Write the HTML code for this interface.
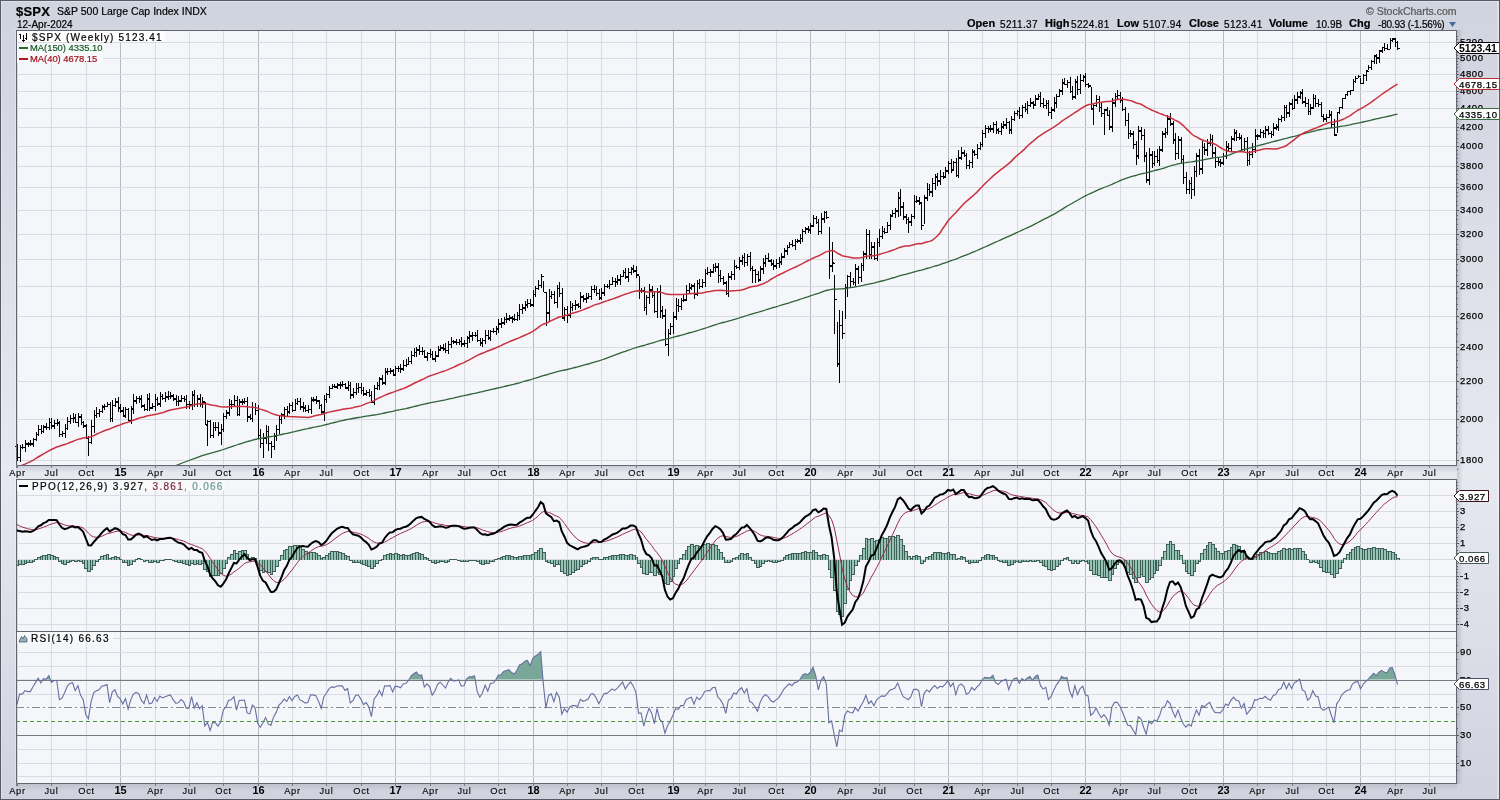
<!DOCTYPE html>
<html><head><meta charset="utf-8"><style>
html,body{margin:0;padding:0;}
body{width:1500px;height:800px;overflow:hidden;font-family:"Liberation Sans",sans-serif;}
#w{position:relative;width:1500px;height:800px;background:#d9dce6;overflow:hidden;}
svg{position:absolute;left:0;top:0;will-change:transform;}
text{-webkit-font-smoothing:antialiased;}
.yl{font:9.5px "Liberation Sans",sans-serif;fill:#000;letter-spacing:0.6px;stroke:#000;stroke-width:0.25px;}
.tag{font:9.6px "Liberation Sans",sans-serif;fill:#000;letter-spacing:0.55px;stroke:#000;stroke-width:0.25px;}
.tagb{font:bold 10.5px "Liberation Sans",sans-serif;fill:#000;}
.xl{font:9.3px "Liberation Sans",sans-serif;fill:#000;letter-spacing:0.7px;stroke:#000;stroke-width:0.12px;}
.xlb{font:bold 11px "Liberation Sans",sans-serif;fill:#000;}
.t{position:absolute;white-space:nowrap;line-height:1;will-change:transform;-webkit-text-stroke:0.2px currentColor;}
</style></head><body><div id="w">
<svg width="1500" height="800">
<defs>
<linearGradient id="gband" x1="0" y1="0" x2="0" y2="1"><stop offset="0" stop-color="#c6cad5"/><stop offset="0.55" stop-color="#e6e8ef"/><stop offset="1" stop-color="#e9eaf0"/></linearGradient>
<linearGradient id="gbot" x1="0" y1="0" x2="0" y2="1"><stop offset="0" stop-color="#000" stop-opacity="0.1"/><stop offset="0.5" stop-color="#000" stop-opacity="0.0"/><stop offset="1" stop-color="#000" stop-opacity="0"/></linearGradient>
<linearGradient id="gshadow" x1="0" y1="0" x2="1" y2="0"><stop offset="0" stop-color="#000" stop-opacity="0.16"/><stop offset="1" stop-color="#000" stop-opacity="0"/></linearGradient>
<linearGradient id="gbg" x1="0" y1="0" x2="0" y2="1"><stop offset="0" stop-color="#d0d4df"/><stop offset="0.08" stop-color="#d3d6e1"/><stop offset="0.59" stop-color="#e7e9f1"/><stop offset="1" stop-color="#d0d3de"/></linearGradient>
</defs>
<rect x="0" y="0" width="1500" height="800" fill="url(#gbg)"/>
<rect x="0" y="1" width="1500" height="1" fill="#dde0e8"/>
<rect x="1456" y="30" width="7" height="754" fill="url(#gshadow)"/>
<rect x="1497" y="0" width="2" height="800" fill="#fff" fill-opacity="0.25"/>
<rect x="1" y="0" width="1" height="800" fill="#fff" fill-opacity="0.3"/>
<rect x="15" y="30" width="1" height="754" fill="#fff" fill-opacity="0.3"/>
<rect x="16" y="30" width="1440" height="435" fill="#f5f6fa"/>
<rect x="16" y="479" width="1440" height="152" fill="#f5f6fa"/>
<rect x="16" y="631" width="1440" height="152" fill="#f5f6fa"/>
<rect x="16" y="465" width="1441" height="14" fill="url(#gband)"/>
<rect x="16" y="783" width="1441" height="16" fill="url(#gbot)"/>
<line x1="17.5" y1="30" x2="17.5" y2="465" stroke="#d9dbe2"/>
<line x1="17.5" y1="479" x2="17.5" y2="631" stroke="#d9dbe2"/>
<line x1="17.5" y1="631" x2="17.5" y2="783" stroke="#d9dbe2"/>
<line x1="51.5" y1="30" x2="51.5" y2="465" stroke="#d9dbe2"/>
<line x1="51.5" y1="479" x2="51.5" y2="631" stroke="#d9dbe2"/>
<line x1="51.5" y1="631" x2="51.5" y2="783" stroke="#d9dbe2"/>
<line x1="86.5" y1="30" x2="86.5" y2="465" stroke="#d9dbe2"/>
<line x1="86.5" y1="479" x2="86.5" y2="631" stroke="#d9dbe2"/>
<line x1="86.5" y1="631" x2="86.5" y2="783" stroke="#d9dbe2"/>
<line x1="120.5" y1="30" x2="120.5" y2="465" stroke="#b8bac2"/>
<line x1="120.5" y1="479" x2="120.5" y2="631" stroke="#b8bac2"/>
<line x1="120.5" y1="631" x2="120.5" y2="783" stroke="#b8bac2"/>
<line x1="155.5" y1="30" x2="155.5" y2="465" stroke="#d9dbe2"/>
<line x1="155.5" y1="479" x2="155.5" y2="631" stroke="#d9dbe2"/>
<line x1="155.5" y1="631" x2="155.5" y2="783" stroke="#d9dbe2"/>
<line x1="189.5" y1="30" x2="189.5" y2="465" stroke="#d9dbe2"/>
<line x1="189.5" y1="479" x2="189.5" y2="631" stroke="#d9dbe2"/>
<line x1="189.5" y1="631" x2="189.5" y2="783" stroke="#d9dbe2"/>
<line x1="223.5" y1="30" x2="223.5" y2="465" stroke="#d9dbe2"/>
<line x1="223.5" y1="479" x2="223.5" y2="631" stroke="#d9dbe2"/>
<line x1="223.5" y1="631" x2="223.5" y2="783" stroke="#d9dbe2"/>
<line x1="258.5" y1="30" x2="258.5" y2="465" stroke="#b8bac2"/>
<line x1="258.5" y1="479" x2="258.5" y2="631" stroke="#b8bac2"/>
<line x1="258.5" y1="631" x2="258.5" y2="783" stroke="#b8bac2"/>
<line x1="292.5" y1="30" x2="292.5" y2="465" stroke="#d9dbe2"/>
<line x1="292.5" y1="479" x2="292.5" y2="631" stroke="#d9dbe2"/>
<line x1="292.5" y1="631" x2="292.5" y2="783" stroke="#d9dbe2"/>
<line x1="326.5" y1="30" x2="326.5" y2="465" stroke="#d9dbe2"/>
<line x1="326.5" y1="479" x2="326.5" y2="631" stroke="#d9dbe2"/>
<line x1="326.5" y1="631" x2="326.5" y2="783" stroke="#d9dbe2"/>
<line x1="361.5" y1="30" x2="361.5" y2="465" stroke="#d9dbe2"/>
<line x1="361.5" y1="479" x2="361.5" y2="631" stroke="#d9dbe2"/>
<line x1="361.5" y1="631" x2="361.5" y2="783" stroke="#d9dbe2"/>
<line x1="395.5" y1="30" x2="395.5" y2="465" stroke="#b8bac2"/>
<line x1="395.5" y1="479" x2="395.5" y2="631" stroke="#b8bac2"/>
<line x1="395.5" y1="631" x2="395.5" y2="783" stroke="#b8bac2"/>
<line x1="430.5" y1="30" x2="430.5" y2="465" stroke="#d9dbe2"/>
<line x1="430.5" y1="479" x2="430.5" y2="631" stroke="#d9dbe2"/>
<line x1="430.5" y1="631" x2="430.5" y2="783" stroke="#d9dbe2"/>
<line x1="464.5" y1="30" x2="464.5" y2="465" stroke="#d9dbe2"/>
<line x1="464.5" y1="479" x2="464.5" y2="631" stroke="#d9dbe2"/>
<line x1="464.5" y1="631" x2="464.5" y2="783" stroke="#d9dbe2"/>
<line x1="498.5" y1="30" x2="498.5" y2="465" stroke="#d9dbe2"/>
<line x1="498.5" y1="479" x2="498.5" y2="631" stroke="#d9dbe2"/>
<line x1="498.5" y1="631" x2="498.5" y2="783" stroke="#d9dbe2"/>
<line x1="533.5" y1="30" x2="533.5" y2="465" stroke="#b8bac2"/>
<line x1="533.5" y1="479" x2="533.5" y2="631" stroke="#b8bac2"/>
<line x1="533.5" y1="631" x2="533.5" y2="783" stroke="#b8bac2"/>
<line x1="567.5" y1="30" x2="567.5" y2="465" stroke="#d9dbe2"/>
<line x1="567.5" y1="479" x2="567.5" y2="631" stroke="#d9dbe2"/>
<line x1="567.5" y1="631" x2="567.5" y2="783" stroke="#d9dbe2"/>
<line x1="601.5" y1="30" x2="601.5" y2="465" stroke="#d9dbe2"/>
<line x1="601.5" y1="479" x2="601.5" y2="631" stroke="#d9dbe2"/>
<line x1="601.5" y1="631" x2="601.5" y2="783" stroke="#d9dbe2"/>
<line x1="636.5" y1="30" x2="636.5" y2="465" stroke="#d9dbe2"/>
<line x1="636.5" y1="479" x2="636.5" y2="631" stroke="#d9dbe2"/>
<line x1="636.5" y1="631" x2="636.5" y2="783" stroke="#d9dbe2"/>
<line x1="673.5" y1="30" x2="673.5" y2="465" stroke="#b8bac2"/>
<line x1="673.5" y1="479" x2="673.5" y2="631" stroke="#b8bac2"/>
<line x1="673.5" y1="631" x2="673.5" y2="783" stroke="#b8bac2"/>
<line x1="705.5" y1="30" x2="705.5" y2="465" stroke="#d9dbe2"/>
<line x1="705.5" y1="479" x2="705.5" y2="631" stroke="#d9dbe2"/>
<line x1="705.5" y1="631" x2="705.5" y2="783" stroke="#d9dbe2"/>
<line x1="739.5" y1="30" x2="739.5" y2="465" stroke="#d9dbe2"/>
<line x1="739.5" y1="479" x2="739.5" y2="631" stroke="#d9dbe2"/>
<line x1="739.5" y1="631" x2="739.5" y2="783" stroke="#d9dbe2"/>
<line x1="776.5" y1="30" x2="776.5" y2="465" stroke="#d9dbe2"/>
<line x1="776.5" y1="479" x2="776.5" y2="631" stroke="#d9dbe2"/>
<line x1="776.5" y1="631" x2="776.5" y2="783" stroke="#d9dbe2"/>
<line x1="810.5" y1="30" x2="810.5" y2="465" stroke="#b8bac2"/>
<line x1="810.5" y1="479" x2="810.5" y2="631" stroke="#b8bac2"/>
<line x1="810.5" y1="631" x2="810.5" y2="783" stroke="#b8bac2"/>
<line x1="845.5" y1="30" x2="845.5" y2="465" stroke="#d9dbe2"/>
<line x1="845.5" y1="479" x2="845.5" y2="631" stroke="#d9dbe2"/>
<line x1="845.5" y1="631" x2="845.5" y2="783" stroke="#d9dbe2"/>
<line x1="879.5" y1="30" x2="879.5" y2="465" stroke="#d9dbe2"/>
<line x1="879.5" y1="479" x2="879.5" y2="631" stroke="#d9dbe2"/>
<line x1="879.5" y1="631" x2="879.5" y2="783" stroke="#d9dbe2"/>
<line x1="914.5" y1="30" x2="914.5" y2="465" stroke="#d9dbe2"/>
<line x1="914.5" y1="479" x2="914.5" y2="631" stroke="#d9dbe2"/>
<line x1="914.5" y1="631" x2="914.5" y2="783" stroke="#d9dbe2"/>
<line x1="948.5" y1="30" x2="948.5" y2="465" stroke="#b8bac2"/>
<line x1="948.5" y1="479" x2="948.5" y2="631" stroke="#b8bac2"/>
<line x1="948.5" y1="631" x2="948.5" y2="783" stroke="#b8bac2"/>
<line x1="982.5" y1="30" x2="982.5" y2="465" stroke="#d9dbe2"/>
<line x1="982.5" y1="479" x2="982.5" y2="631" stroke="#d9dbe2"/>
<line x1="982.5" y1="631" x2="982.5" y2="783" stroke="#d9dbe2"/>
<line x1="1017.5" y1="30" x2="1017.5" y2="465" stroke="#d9dbe2"/>
<line x1="1017.5" y1="479" x2="1017.5" y2="631" stroke="#d9dbe2"/>
<line x1="1017.5" y1="631" x2="1017.5" y2="783" stroke="#d9dbe2"/>
<line x1="1051.5" y1="30" x2="1051.5" y2="465" stroke="#d9dbe2"/>
<line x1="1051.5" y1="479" x2="1051.5" y2="631" stroke="#d9dbe2"/>
<line x1="1051.5" y1="631" x2="1051.5" y2="783" stroke="#d9dbe2"/>
<line x1="1085.5" y1="30" x2="1085.5" y2="465" stroke="#b8bac2"/>
<line x1="1085.5" y1="479" x2="1085.5" y2="631" stroke="#b8bac2"/>
<line x1="1085.5" y1="631" x2="1085.5" y2="783" stroke="#b8bac2"/>
<line x1="1120.5" y1="30" x2="1120.5" y2="465" stroke="#d9dbe2"/>
<line x1="1120.5" y1="479" x2="1120.5" y2="631" stroke="#d9dbe2"/>
<line x1="1120.5" y1="631" x2="1120.5" y2="783" stroke="#d9dbe2"/>
<line x1="1154.5" y1="30" x2="1154.5" y2="465" stroke="#d9dbe2"/>
<line x1="1154.5" y1="479" x2="1154.5" y2="631" stroke="#d9dbe2"/>
<line x1="1154.5" y1="631" x2="1154.5" y2="783" stroke="#d9dbe2"/>
<line x1="1189.5" y1="30" x2="1189.5" y2="465" stroke="#d9dbe2"/>
<line x1="1189.5" y1="479" x2="1189.5" y2="631" stroke="#d9dbe2"/>
<line x1="1189.5" y1="631" x2="1189.5" y2="783" stroke="#d9dbe2"/>
<line x1="1223.5" y1="30" x2="1223.5" y2="465" stroke="#b8bac2"/>
<line x1="1223.5" y1="479" x2="1223.5" y2="631" stroke="#b8bac2"/>
<line x1="1223.5" y1="631" x2="1223.5" y2="783" stroke="#b8bac2"/>
<line x1="1257.5" y1="30" x2="1257.5" y2="465" stroke="#d9dbe2"/>
<line x1="1257.5" y1="479" x2="1257.5" y2="631" stroke="#d9dbe2"/>
<line x1="1257.5" y1="631" x2="1257.5" y2="783" stroke="#d9dbe2"/>
<line x1="1292.5" y1="30" x2="1292.5" y2="465" stroke="#d9dbe2"/>
<line x1="1292.5" y1="479" x2="1292.5" y2="631" stroke="#d9dbe2"/>
<line x1="1292.5" y1="631" x2="1292.5" y2="783" stroke="#d9dbe2"/>
<line x1="1326.5" y1="30" x2="1326.5" y2="465" stroke="#d9dbe2"/>
<line x1="1326.5" y1="479" x2="1326.5" y2="631" stroke="#d9dbe2"/>
<line x1="1326.5" y1="631" x2="1326.5" y2="783" stroke="#d9dbe2"/>
<line x1="1360.5" y1="30" x2="1360.5" y2="465" stroke="#b8bac2"/>
<line x1="1360.5" y1="479" x2="1360.5" y2="631" stroke="#b8bac2"/>
<line x1="1360.5" y1="631" x2="1360.5" y2="783" stroke="#b8bac2"/>
<line x1="1395.5" y1="30" x2="1395.5" y2="465" stroke="#d9dbe2"/>
<line x1="1395.5" y1="479" x2="1395.5" y2="631" stroke="#d9dbe2"/>
<line x1="1395.5" y1="631" x2="1395.5" y2="783" stroke="#d9dbe2"/>
<line x1="1429.5" y1="30" x2="1429.5" y2="465" stroke="#d9dbe2"/>
<line x1="1429.5" y1="479" x2="1429.5" y2="631" stroke="#d9dbe2"/>
<line x1="1429.5" y1="631" x2="1429.5" y2="783" stroke="#d9dbe2"/>
<line x1="16" y1="460.5" x2="1456" y2="460.5" stroke="#d9dbe2"/>
<line x1="16" y1="419.5" x2="1456" y2="419.5" stroke="#d9dbe2"/>
<line x1="16" y1="381.5" x2="1456" y2="381.5" stroke="#d9dbe2"/>
<line x1="16" y1="347.5" x2="1456" y2="347.5" stroke="#d9dbe2"/>
<line x1="16" y1="316.5" x2="1456" y2="316.5" stroke="#d9dbe2"/>
<line x1="16" y1="286.5" x2="1456" y2="286.5" stroke="#d9dbe2"/>
<line x1="16" y1="259.5" x2="1456" y2="259.5" stroke="#d9dbe2"/>
<line x1="16" y1="234.5" x2="1456" y2="234.5" stroke="#d9dbe2"/>
<line x1="16" y1="210.5" x2="1456" y2="210.5" stroke="#d9dbe2"/>
<line x1="16" y1="187.5" x2="1456" y2="187.5" stroke="#d9dbe2"/>
<line x1="16" y1="166.5" x2="1456" y2="166.5" stroke="#d9dbe2"/>
<line x1="16" y1="146.5" x2="1456" y2="146.5" stroke="#d9dbe2"/>
<line x1="16" y1="127.5" x2="1456" y2="127.5" stroke="#d9dbe2"/>
<line x1="16" y1="108.5" x2="1456" y2="108.5" stroke="#d9dbe2"/>
<line x1="16" y1="91.5" x2="1456" y2="91.5" stroke="#d9dbe2"/>
<line x1="16" y1="74.5" x2="1456" y2="74.5" stroke="#d9dbe2"/>
<line x1="16" y1="58.5" x2="1456" y2="58.5" stroke="#d9dbe2"/>
<line x1="16" y1="42.5" x2="1456" y2="42.5" stroke="#d9dbe2"/>
<line x1="16" y1="624.5" x2="1456" y2="624.5" stroke="#d9dbe2"/>
<line x1="16" y1="608.5" x2="1456" y2="608.5" stroke="#d9dbe2"/>
<line x1="16" y1="592.5" x2="1456" y2="592.5" stroke="#d9dbe2"/>
<line x1="16" y1="576.5" x2="1456" y2="576.5" stroke="#d9dbe2"/>
<line x1="16" y1="559.5" x2="1456" y2="559.5" stroke="#d9dbe2"/>
<line x1="16" y1="543.5" x2="1456" y2="543.5" stroke="#d9dbe2"/>
<line x1="16" y1="527.5" x2="1456" y2="527.5" stroke="#d9dbe2"/>
<line x1="16" y1="511.5" x2="1456" y2="511.5" stroke="#d9dbe2"/>
<line x1="16" y1="495.5" x2="1456" y2="495.5" stroke="#d9dbe2"/>
<line x1="16" y1="776.5" x2="1456" y2="776.5" stroke="#d9dbe2"/>
<line x1="16" y1="763.5" x2="1456" y2="763.5" stroke="#d9dbe2"/>
<line x1="16" y1="749.5" x2="1456" y2="749.5" stroke="#d9dbe2"/>
<line x1="16" y1="694.5" x2="1456" y2="694.5" stroke="#d9dbe2"/>
<line x1="16" y1="666.5" x2="1456" y2="666.5" stroke="#d9dbe2"/>
<line x1="16" y1="652.5" x2="1456" y2="652.5" stroke="#d9dbe2"/>
<line x1="16" y1="638.5" x2="1456" y2="638.5" stroke="#d9dbe2"/>
<path d="M17.5 444.4V460.9M15 446.5h2M18 457.5h2M20.5 444.7V461.5M18 457.5h2M21 447.5h2M22.5 443.9V448.9M20 447.5h2M23 447.5h2M25.5 440.2V451.9M23 447.5h2M26 443.5h2M28.5 441.5V447.3M26 444.5h2M29 444.5h2M30.5 439.5V446.4M28 443.5h2M31 444.5h2M33.5 437.6V447.4M31 443.5h2M34 439.5h2M36.5 432.3V441.1M34 439.5h2M37 434.5h2M38.5 424.5V436.4M36 434.5h2M39 429.5h2M41.5 425.0V434.1M39 429.5h2M42 431.5h2M43.5 424.7V432.9M41 431.5h2M44 426.5h2M46.5 422.8V429.6M44 427.5h2M47 427.5h2M49.5 418.4V429.9M47 427.5h2M50 422.5h2M51.5 417.9V429.1M49 422.5h2M52 425.5h2M54.5 419.8V428.9M52 426.5h2M55 423.5h2M57.5 418.6V425.6M55 423.5h2M58 423.5h2M59.5 420.8V436.8M57 422.5h2M60 434.5h2M62.5 430.9V436.6M60 434.5h2M63 433.5h2M65.5 424.1V437.6M63 433.5h2M66 428.5h2M67.5 416.7V430.2M65 428.5h2M68 421.5h2M70.5 414.8V424.4M68 421.5h2M71 418.5h2M73.5 413.1V423.2M71 418.5h2M74 417.5h2M75.5 413.8V423.3M73 418.5h2M76 422.5h2M78.5 413.2V426.6M76 422.5h2M79 417.5h2M81.5 414.1V425.1M79 416.5h2M82 422.5h2M83.5 420.8V428.4M81 422.5h2M84 425.5h2M86.5 424.2V439.4M84 426.5h2M87 438.5h2M88.5 435.7V455.8M86 437.5h2M89 442.5h2M91.5 419.7V444.4M89 442.5h2M92 426.5h2M94.5 410.4V433.0M92 426.5h2M95 415.5h2M96.5 407.3V417.5M94 415.5h2M97 413.5h2M99.5 408.6V417.4M97 413.5h2M100 411.5h2M102.5 404.6V412.5M100 411.5h2M103 406.5h2M104.5 403.5V410.0M102 407.5h2M105 406.5h2M107.5 402.1V406.8M105 406.5h2M108 404.5h2M110.5 401.8V422.0M108 404.5h2M111 418.5h2M112.5 400.1V422.1M110 418.5h2M113 405.5h2M115.5 397.7V406.7M113 405.5h2M116 402.5h2M118.5 396.9V412.4M116 401.5h2M119 408.5h2M120.5 404.4V412.9M118 407.5h2M121 410.5h2M123.5 407.1V416.6M121 411.5h2M124 415.5h2M125.5 406.9V417.7M123 416.5h2M126 409.5h2M128.5 407.5V421.3M126 409.5h2M129 420.5h2M131.5 406.0V424.0M129 420.5h2M132 408.5h2M133.5 394.4V413.7M131 409.5h2M134 400.5h2M136.5 395.5V403.6M134 401.5h2M137 398.5h2M139.5 396.3V403.4M137 398.5h2M140 399.5h2M141.5 395.1V408.2M139 398.5h2M142 405.5h2M144.5 404.1V411.1M142 406.5h2M145 409.5h2M147.5 393.7V410.8M145 409.5h2M148 398.5h2M149.5 393.4V410.8M147 399.5h2M150 407.5h2M152.5 402.8V408.9M150 408.5h2M153 406.5h2M155.5 394.3V410.6M153 406.5h2M156 399.5h2M157.5 396.7V405.9M155 399.5h2M158 403.5h2M160.5 392.3V407.0M158 404.5h2M161 396.5h2M162.5 393.5V400.2M160 396.5h2M163 398.5h2M165.5 391.7V402.2M163 398.5h2M166 397.5h2M168.5 391.2V400.2M166 396.5h2M169 396.5h2M170.5 391.6V398.6M168 396.5h2M171 395.5h2M173.5 394.2V400.7M171 396.5h2M174 398.5h2M176.5 394.8V406.0M174 399.5h2M177 401.5h2M178.5 396.0V406.3M176 401.5h2M179 401.5h2M181.5 395.3V402.1M179 400.5h2M182 398.5h2M184.5 396.4V401.5M182 398.5h2M185 399.5h2M186.5 394.6V408.6M184 399.5h2M187 404.5h2M189.5 400.5V408.5M187 404.5h2M190 404.5h2M192.5 391.0V409.5M190 405.5h2M193 395.5h2M194.5 390.3V406.7M192 394.5h2M195 404.5h2M197.5 394.7V406.6M195 404.5h2M198 399.5h2M200.5 393.5V406.7M198 398.5h2M201 404.5h2M202.5 396.5V408.2M200 404.5h2M203 401.5h2M205.5 402.3V424.6M203 402.5h2M206 425.5h2M207.5 420.2V446.0M205 424.5h2M208 421.5h2M210.5 420.4V438.4M208 421.5h2M211 435.5h2M213.5 421.8V437.5M211 435.5h2M214 427.5h2M215.5 422.0V431.3M213 427.5h2M216 427.5h2M218.5 422.4V435.6M216 427.5h2M219 433.5h2M221.5 424.3V444.9M219 432.5h2M222 429.5h2M223.5 413.2V431.7M221 429.5h2M224 416.5h2M226.5 410.1V418.9M224 416.5h2M227 412.5h2M229.5 399.2V415.9M227 413.5h2M230 404.5h2M231.5 400.1V409.1M229 404.5h2M232 404.5h2M234.5 395.1V406.9M232 404.5h2M235 400.5h2M237.5 395.9V416.0M235 400.5h2M238 414.5h2M239.5 398.9V416.3M237 414.5h2M240 402.5h2M242.5 399.3V404.7M240 401.5h2M243 402.5h2M244.5 397.8V403.8M242 401.5h2M245 401.5h2M247.5 397.2V421.7M245 401.5h2M248 416.5h2M250.5 413.8V420.1M248 417.5h2M251 418.5h2M252.5 402.4V421.9M250 418.5h2M253 407.5h2M255.5 403.0V415.0M253 407.5h2M256 410.5h2M258.5 405.0V439.3M256 410.5h2M259 435.5h2M260.5 428.7V447.7M258 435.5h2M261 443.5h2M263.5 433.2V457.7M261 443.5h2M264 438.5h2M266.5 424.8V443.8M264 437.5h2M267 431.5h2M268.5 426.2V450.5M266 431.5h2M269 443.5h2M271.5 440.5V458.2M269 443.5h2M272 446.5h2M274.5 433.2V449.5M272 446.5h2M275 435.5h2M276.5 424.5V441.4M274 436.5h2M277 429.5h2M279.5 416.3V434.1M277 429.5h2M280 419.5h2M281.5 412.5V424.0M279 419.5h2M282 415.5h2M284.5 406.9V419.1M282 414.5h2M285 409.5h2M287.5 406.2V417.1M285 409.5h2M288 412.5h2M289.5 402.9V414.4M287 411.5h2M290 405.5h2M292.5 402.2V411.5M290 405.5h2M293 410.5h2M295.5 399.2V411.1M293 410.5h2M296 403.5h2M297.5 398.2V404.5M295 403.5h2M298 401.5h2M300.5 397.8V409.5M298 401.5h2M301 406.5h2M303.5 402.0V412.1M301 407.5h2M304 408.5h2M305.5 405.4V412.0M303 407.5h2M306 410.5h2M308.5 404.6V412.7M306 410.5h2M309 409.5h2M311.5 397.0V414.1M309 409.5h2M312 400.5h2M313.5 397.1V401.7M311 399.5h2M314 400.5h2M316.5 395.8V404.3M314 399.5h2M317 400.5h2M319.5 399.6V409.0M317 401.5h2M320 405.5h2M321.5 403.7V414.9M319 405.5h2M322 412.5h2M324.5 394.6V420.6M322 411.5h2M325 399.5h2M326.5 392.5V403.1M324 399.5h2M327 394.5h2M329.5 385.6V397.5M327 394.5h2M330 388.5h2M332.5 383.5V389.3M330 388.5h2M333 386.5h2M334.5 383.6V387.9M332 386.5h2M335 386.5h2M337.5 382.9V388.7M335 387.5h2M338 384.5h2M340.5 381.8V388.8M338 385.5h2M341 384.5h2M342.5 381.0V386.5M340 385.5h2M343 384.5h2M345.5 383.1V389.1M343 384.5h2M346 387.5h2M348.5 380.9V391.0M346 388.5h2M349 385.5h2M350.5 382.4V399.2M348 385.5h2M351 394.5h2M353.5 388.1V397.9M351 395.5h2M354 392.5h2M356.5 383.2V395.2M354 392.5h2M357 388.5h2M358.5 383.2V392.6M356 388.5h2M359 387.5h2M361.5 382.9V393.8M359 387.5h2M362 390.5h2M363.5 386.8V396.1M361 390.5h2M364 393.5h2M366.5 390.3V395.7M364 394.5h2M367 392.5h2M369.5 389.4V396.7M367 392.5h2M370 395.5h2M371.5 391.0V402.7M369 395.5h2M372 402.5h2M374.5 385.1V404.7M372 402.5h2M375 388.5h2M377.5 381.6V390.0M375 388.5h2M378 385.5h2M379.5 376.7V389.6M377 385.5h2M380 379.5h2M382.5 374.9V384.9M380 378.5h2M383 383.5h2M385.5 368.1V385.0M383 382.5h2M386 371.5h2M387.5 368.4V374.7M385 372.5h2M388 371.5h2M390.5 368.2V374.2M388 371.5h2M391 370.5h2M393.5 368.7V376.0M391 371.5h2M394 374.5h2M395.5 366.3V375.9M393 375.5h2M396 368.5h2M398.5 365.9V371.6M396 368.5h2M399 368.5h2M400.5 364.0V372.6M398 368.5h2M401 369.5h2M403.5 360.1V371.2M401 368.5h2M404 365.5h2M406.5 359.4V366.8M404 365.5h2M407 364.5h2M408.5 357.4V365.4M406 364.5h2M409 361.5h2M411.5 350.6V364.2M409 361.5h2M412 355.5h2M414.5 348.2V356.6M412 355.5h2M415 352.5h2M416.5 346.7V356.9M414 352.5h2M417 350.5h2M419.5 345.0V355.0M417 349.5h2M420 351.5h2M422.5 346.8V354.8M420 351.5h2M423 351.5h2M424.5 349.7V358.1M422 351.5h2M425 356.5h2M427.5 351.5V361.0M425 357.5h2M428 353.5h2M430.5 349.4V358.1M428 353.5h2M431 354.5h2M432.5 351.1V360.1M430 354.5h2M433 359.5h2M435.5 351.4V361.6M433 358.5h2M436 356.5h2M438.5 345.9V357.0M436 355.5h2M439 350.5h2M440.5 345.0V350.8M438 349.5h2M441 347.5h2M443.5 343.6V350.6M441 348.5h2M444 349.5h2M445.5 343.2V353.1M443 348.5h2M446 350.5h2M448.5 341.4V354.1M446 350.5h2M449 344.5h2M451.5 337.1V347.7M449 344.5h2M452 341.5h2M453.5 339.5V344.0M451 341.5h2M454 342.5h2M456.5 339.0V345.1M454 341.5h2M457 342.5h2M459.5 339.4V344.7M457 342.5h2M460 341.5h2M461.5 336.7V347.1M459 341.5h2M462 343.5h2M464.5 339.8V346.6M462 344.5h2M465 343.5h2M467.5 335.8V347.7M465 343.5h2M468 337.5h2M469.5 330.5V342.8M467 338.5h2M470 335.5h2M472.5 332.4V340.5M470 336.5h2M473 335.5h2M475.5 331.7V336.9M473 335.5h2M476 335.5h2M477.5 330.3V342.4M475 335.5h2M478 340.5h2M480.5 338.4V346.1M478 340.5h2M481 343.5h2M482.5 338.3V346.5M480 342.5h2M483 340.5h2M485.5 330.0V344.0M483 340.5h2M486 335.5h2M488.5 330.4V340.3M486 335.5h2M489 337.5h2M490.5 329.7V341.0M488 338.5h2M491 331.5h2M493.5 328.2V332.8M491 331.5h2M494 331.5h2M496.5 325.5V335.4M494 331.5h2M497 328.5h2M498.5 319.2V333.2M496 329.5h2M499 323.5h2M501.5 318.0V327.9M499 324.5h2M502 323.5h2M504.5 317.0V324.7M502 322.5h2M505 319.5h2M506.5 313.4V323.0M504 319.5h2M507 318.5h2M509.5 314.5V320.9M507 319.5h2M510 317.5h2M512.5 316.4V322.7M510 318.5h2M513 318.5h2M514.5 313.8V320.9M512 319.5h2M515 319.5h2M517.5 312.0V321.1M515 319.5h2M518 315.5h2M519.5 304.4V320.0M517 315.5h2M520 309.5h2M522.5 304.1V313.5M520 309.5h2M523 308.5h2M525.5 300.8V311.0M523 307.5h2M526 304.5h2M527.5 299.0V307.8M525 305.5h2M528 303.5h2M530.5 298.9V306.8M528 303.5h2M531 304.5h2M533.5 289.7V306.9M531 305.5h2M534 294.5h2M535.5 285.7V296.9M533 294.5h2M536 288.5h2M538.5 280.0V290.2M536 288.5h2M539 285.5h2M541.5 273.8V288.1M539 285.5h2M542 276.5h2M543.5 281.1V292.1M541 276.5h2M544 292.5h2M546.5 291.6V325.8M544 292.5h2M547 312.5h2M549.5 289.0V320.5M547 313.5h2M550 296.5h2M551.5 291.2V299.1M549 296.5h2M552 294.5h2M554.5 290.7V304.4M552 294.5h2M555 302.5h2M557.5 285.0V307.5M555 302.5h2M558 288.5h2M559.5 281.9V297.2M557 288.5h2M560 293.5h2M562.5 288.4V317.8M560 293.5h2M563 317.5h2M564.5 307.1V321.1M562 318.5h2M565 309.5h2M567.5 306.0V322.7M565 309.5h2M568 315.5h2M570.5 300.5V317.8M568 315.5h2M571 307.5h2M572.5 302.6V310.6M570 307.5h2M573 305.5h2M575.5 300.2V309.6M573 305.5h2M576 305.5h2M578.5 303.1V307.5M576 304.5h2M579 306.5h2M580.5 292.0V308.8M578 306.5h2M581 297.5h2M583.5 295.2V301.5M581 296.5h2M584 299.5h2M586.5 293.2V302.6M584 298.5h2M587 298.5h2M588.5 293.4V298.5M586 297.5h2M589 296.5h2M591.5 286.1V300.0M589 296.5h2M592 289.5h2M594.5 284.6V292.9M592 289.5h2M595 289.5h2M596.5 285.7V296.1M594 289.5h2M597 293.5h2M599.5 289.2V300.2M597 293.5h2M600 298.5h2M601.5 288.3V299.8M599 297.5h2M602 292.5h2M604.5 284.0V296.3M602 293.5h2M605 286.5h2M607.5 284.2V287.6M605 286.5h2M608 286.5h2M609.5 280.2V288.7M607 286.5h2M610 284.5h2M612.5 277.2V285.4M610 284.5h2M613 281.5h2M615.5 278.1V286.6M613 281.5h2M616 282.5h2M617.5 274.8V284.5M615 281.5h2M618 279.5h2M620.5 273.7V284.7M618 280.5h2M621 276.5h2M623.5 269.8V276.9M621 276.5h2M624 272.5h2M625.5 268.4V279.2M623 272.5h2M626 276.5h2M628.5 268.1V281.5M626 277.5h2M629 272.5h2M631.5 267.1V274.8M629 272.5h2M632 268.5h2M633.5 264.7V272.6M631 269.5h2M634 271.5h2M636.5 266.1V277.6M634 270.5h2M637 274.5h2M639.5 276.0V299.2M637 275.5h2M640 291.5h2M641.5 288.4V293.0M639 290.5h2M642 291.5h2M644.5 287.3V311.3M642 290.5h2M645 307.5h2M646.5 294.6V315.1M644 307.5h2M647 297.5h2M649.5 283.9V304.1M647 297.5h2M650 289.5h2M652.5 286.1V298.0M650 290.5h2M653 295.5h2M654.5 292.0V312.7M652 295.5h2M655 311.5h2M657.5 287.9V318.3M655 311.5h2M658 292.5h2M660.5 285.4V318.2M658 291.5h2M661 311.5h2M662.5 306.1V318.5M660 310.5h2M663 316.5h2M665.5 308.7V345.6M663 315.5h2M666 344.5h2M668.5 329.2V356.0M666 344.5h2M669 333.5h2M670.5 323.1V335.3M668 333.5h2M671 326.5h2M673.5 312.3V333.7M671 326.5h2M674 316.5h2M676.5 297.6V319.8M674 317.5h2M677 305.5h2M678.5 299.3V311.7M676 305.5h2M679 306.5h2M681.5 297.9V309.7M679 306.5h2M682 300.5h2M683.5 294.8V301.8M681 300.5h2M684 299.5h2M686.5 284.8V301.2M684 300.5h2M687 290.5h2M689.5 283.0V294.0M687 290.5h2M690 287.5h2M691.5 284.4V289.5M689 288.5h2M692 286.5h2M694.5 282.9V298.5M692 285.5h2M695 294.5h2M697.5 280.3V296.4M695 294.5h2M698 283.5h2M699.5 278.9V288.6M697 283.5h2M700 286.5h2M702.5 279.1V288.3M700 286.5h2M703 282.5h2M705.5 269.3V287.2M703 282.5h2M706 273.5h2M707.5 266.7V274.6M705 273.5h2M708 272.5h2M710.5 268.8V276.9M708 272.5h2M711 272.5h2M713.5 264.4V273.3M711 271.5h2M714 267.5h2M715.5 263.2V272.0M713 267.5h2M716 266.5h2M718.5 262.5V282.8M716 267.5h2M719 275.5h2M720.5 270.4V281.5M718 275.5h2M721 278.5h2M723.5 275.8V285.3M721 278.5h2M724 283.5h2M726.5 280.7V295.1M724 282.5h2M727 293.5h2M728.5 272.9V296.6M726 293.5h2M729 276.5h2M731.5 270.5V279.8M729 277.5h2M732 274.5h2M734.5 260.3V279.6M732 274.5h2M735 266.5h2M736.5 264.6V268.5M734 266.5h2M737 267.5h2M739.5 256.5V269.8M737 267.5h2M740 260.5h2M742.5 254.5V264.5M740 261.5h2M743 257.5h2M744.5 253.0V266.7M742 257.5h2M745 262.5h2M747.5 254.0V266.4M745 262.5h2M748 256.5h2M750.5 252.0V271.4M748 256.5h2M751 268.5h2M752.5 265.8V283.2M750 268.5h2M753 270.5h2M755.5 268.5V283.2M753 270.5h2M756 274.5h2M758.5 271.4V281.6M756 274.5h2M759 280.5h2M760.5 265.5V281.4M758 279.5h2M761 269.5h2M763.5 257.8V274.1M761 268.5h2M764 262.5h2M765.5 255.2V266.9M763 263.5h2M766 258.5h2M768.5 253.0V261.6M766 258.5h2M769 260.5h2M771.5 258.8V266.1M769 261.5h2M772 264.5h2M773.5 260.0V270.3M771 263.5h2M774 265.5h2M776.5 258.6V268.7M774 266.5h2M777 263.5h2M779.5 256.8V268.3M777 263.5h2M780 261.5h2M781.5 252.6V265.2M779 262.5h2M782 256.5h2M784.5 247.8V258.4M782 257.5h2M785 250.5h2M787.5 244.9V254.5M785 251.5h2M788 247.5h2M789.5 241.7V248.2M787 247.5h2M790 244.5h2M792.5 240.2V246.9M790 244.5h2M793 245.5h2M795.5 239.0V249.5M793 245.5h2M796 241.5h2M797.5 238.9V242.6M795 241.5h2M798 240.5h2M800.5 234.2V244.3M798 241.5h2M801 238.5h2M802.5 229.3V242.1M800 238.5h2M803 231.5h2M805.5 226.5V233.7M803 231.5h2M806 229.5h2M808.5 225.7V232.9M806 228.5h2M809 229.5h2M810.5 223.0V234.2M808 230.5h2M811 226.5h2M813.5 215.4V227.0M811 225.5h2M814 218.5h2M816.5 215.7V223.5M814 218.5h2M817 222.5h2M818.5 218.7V234.9M816 222.5h2M819 231.5h2M821.5 212.8V234.3M819 231.5h2M822 218.5h2M824.5 210.7V222.6M822 219.5h2M825 212.5h2M826.5 210.7V218.7M824 212.5h2M827 217.5h2M829.5 226.5V278.7M827 217.5h2M830 265.5h2M832.5 241.7V272.4M830 266.5h2M833 263.5h2M834.5 274.9V334.4M832 262.5h2M835 299.5h2M837.5 322.4V367.1M835 299.5h2M838 363.5h2M839.5 309.9V382.7M837 364.5h2M840 325.5h2M842.5 311.4V339.2M840 325.5h2M843 333.5h2M845.5 283.8V318.7M843 333.5h2M846 288.5h2M847.5 275.2V296.7M845 287.5h2M848 276.5h2M850.5 272.2V287.9M848 276.5h2M851 281.5h2M853.5 277.7V285.1M851 281.5h2M854 282.5h2M855.5 263.6V286.2M853 282.5h2M856 268.5h2M858.5 265.8V283.5M856 269.5h2M859 277.5h2M861.5 263.0V281.9M859 277.5h2M862 265.5h2M863.5 251.3V271.4M861 265.5h2M864 253.5h2M866.5 229.2V259.1M864 254.5h2M867 234.5h2M869.5 229.8V259.3M867 234.5h2M870 254.5h2M871.5 242.2V259.3M869 254.5h2M872 246.5h2M874.5 242.2V260.0M872 247.5h2M875 258.5h2M877.5 237.8V261.0M875 258.5h2M878 242.5h2M879.5 229.3V246.5M877 242.5h2M880 236.5h2M882.5 226.1V238.6M880 236.5h2M883 231.5h2M884.5 228.0V233.6M882 231.5h2M885 232.5h2M887.5 221.6V233.4M885 232.5h2M888 225.5h2M890.5 213.6V229.8M888 225.5h2M891 216.5h2M892.5 209.8V216.6M890 215.5h2M893 213.5h2M895.5 207.5V217.9M893 213.5h2M896 210.5h2M898.5 192.3V216.7M896 211.5h2M899 198.5h2M900.5 188.6V215.8M898 197.5h2M901 207.5h2M903.5 201.7V220.4M901 206.5h2M904 217.5h2M906.5 214.1V223.9M904 216.5h2M907 219.5h2M908.5 217.2V232.6M906 219.5h2M909 222.5h2M911.5 214.1V226.1M909 221.5h2M912 216.5h2M914.5 195.3V218.7M912 216.5h2M915 201.5h2M916.5 195.5V203.1M914 201.5h2M917 200.5h2M919.5 197.4V204.9M917 201.5h2M920 202.5h2M921.5 202.3V229.7M919 203.5h2M922 225.5h2M924.5 195.2V224.4M922 225.5h2M925 197.5h2M927.5 182.7V200.5M925 198.5h2M928 189.5h2M929.5 183.5V195.9M927 189.5h2M930 192.5h2M932.5 178.2V196.6M930 191.5h2M933 183.5h2M935.5 174.3V189.7M933 183.5h2M936 177.5h2M937.5 173.2V185.5M935 176.5h2M938 180.5h2M940.5 170.4V184.5M938 181.5h2M941 176.5h2M943.5 171.7V179.2M941 176.5h2M944 176.5h2M945.5 166.6V178.2M943 177.5h2M946 171.5h2M948.5 161.2V173.8M946 170.5h2M949 163.5h2M951.5 159.2V173.1M949 163.5h2M952 169.5h2M953.5 160.5V171.0M951 170.5h2M954 162.5h2M956.5 157.6V177.2M954 162.5h2M957 175.5h2M958.5 150.2V177.7M956 175.5h2M959 157.5h2M961.5 146.9V159.5M959 158.5h2M962 152.5h2M964.5 150.2V157.0M962 153.5h2M965 155.5h2M966.5 152.6V169.4M964 155.5h2M967 165.5h2M969.5 159.6V168.6M967 165.5h2M970 162.5h2M972.5 149.3V167.6M970 162.5h2M973 151.5h2M974.5 150.1V156.1M972 152.5h2M975 154.5h2M977.5 143.8V158.5M975 154.5h2M978 148.5h2M980.5 141.6V149.8M978 148.5h2M981 144.5h2M982.5 129.5V146.6M980 144.5h2M983 133.5h2M985.5 124.9V138.2M983 133.5h2M986 128.5h2M988.5 125.5V133.2M986 128.5h2M989 128.5h2M990.5 125.1V132.0M988 129.5h2M991 128.5h2M993.5 122.0V133.0M991 129.5h2M994 124.5h2M996.5 121.0V133.9M994 124.5h2M997 129.5h2M998.5 127.6V134.3M996 130.5h2M999 131.5h2M1001.5 122.6V135.1M999 131.5h2M1002 126.5h2M1003.5 121.4V129.1M1001 127.5h2M1004 124.5h2M1006.5 117.6V128.8M1004 125.5h2M1007 122.5h2M1009.5 120.6V134.3M1007 122.5h2M1010 130.5h2M1011.5 116.1V133.5M1009 129.5h2M1012 119.5h2M1014.5 110.5V120.8M1012 119.5h2M1015 113.5h2M1017.5 109.6V115.6M1015 113.5h2M1018 111.5h2M1019.5 106.7V119.4M1017 111.5h2M1020 115.5h2M1022.5 104.9V117.9M1020 115.5h2M1023 107.5h2M1025.5 103.1V112.0M1023 107.5h2M1026 109.5h2M1027.5 101.3V114.0M1025 109.5h2M1028 105.5h2M1030.5 97.7V106.8M1028 105.5h2M1031 102.5h2M1033.5 100.5V108.6M1031 103.5h2M1034 105.5h2M1035.5 94.6V106.3M1033 104.5h2M1036 99.5h2M1038.5 93.9V100.2M1036 98.5h2M1039 96.5h2M1040.5 92.1V106.9M1038 96.5h2M1041 103.5h2M1043.5 97.8V108.4M1041 103.5h2M1044 105.5h2M1046.5 99.5V109.3M1044 105.5h2M1047 103.5h2M1048.5 99.5V115.6M1046 103.5h2M1049 112.5h2M1051.5 107.0V119.4M1049 112.5h2M1052 109.5h2M1054.5 97.3V111.6M1052 110.5h2M1055 102.5h2M1056.5 93.9V107.5M1054 103.5h2M1057 96.5h2M1059.5 88.6V97.1M1057 96.5h2M1060 90.5h2M1062.5 78.7V94.7M1060 91.5h2M1063 83.5h2M1064.5 78.2V85.2M1062 82.5h2M1065 84.5h2M1067.5 79.8V88.0M1065 84.5h2M1068 82.5h2M1070.5 77.4V92.7M1068 82.5h2M1071 91.5h2M1072.5 85.9V99.9M1070 91.5h2M1073 96.5h2M1075.5 78.7V98.9M1073 97.5h2M1076 81.5h2M1077.5 76.4V94.6M1075 82.5h2M1078 89.5h2M1080.5 74.4V93.7M1078 89.5h2M1081 80.5h2M1083.5 75.1V82.2M1081 80.5h2M1084 77.5h2M1085.5 72.5V87.0M1083 76.5h2M1086 84.5h2M1088.5 83.0V87.7M1086 84.5h2M1089 85.5h2M1091.5 87.3V108.7M1089 86.5h2M1092 108.5h2M1093.5 103.6V124.5M1091 109.5h2M1094 105.5h2M1096.5 95.0V106.5M1094 105.5h2M1097 99.5h2M1099.5 96.0V111.6M1097 99.5h2M1100 107.5h2M1101.5 102.4V116.6M1099 107.5h2M1102 113.5h2M1104.5 108.9V134.8M1102 113.5h2M1105 110.5h2M1107.5 107.2V116.0M1105 109.5h2M1108 115.5h2M1109.5 110.3V130.3M1107 115.5h2M1110 126.5h2M1112.5 98.0V131.7M1110 127.5h2M1113 103.5h2M1115.5 92.8V106.9M1113 102.5h2M1116 96.5h2M1117.5 90.2V98.6M1115 96.5h2M1118 95.5h2M1120.5 92.2V102.7M1118 95.5h2M1121 100.5h2M1122.5 96.5V110.9M1120 100.5h2M1123 109.5h2M1125.5 106.6V125.6M1123 109.5h2M1126 120.5h2M1128.5 113.3V138.5M1126 120.5h2M1129 133.5h2M1130.5 130.1V137.0M1128 133.5h2M1131 134.5h2M1133.5 131.3V149.4M1131 133.5h2M1134 144.5h2M1136.5 141.4V165.0M1134 144.5h2M1137 156.5h2M1138.5 125.9V159.1M1136 155.5h2M1139 131.5h2M1141.5 126.8V139.8M1139 130.5h2M1142 135.5h2M1144.5 129.1V161.9M1142 135.5h2M1145 156.5h2M1146.5 151.6V183.4M1144 155.5h2M1147 179.5h2M1149.5 148.0V185.4M1147 180.5h2M1150 155.5h2M1152.5 151.4V167.9M1150 154.5h2M1153 163.5h2M1154.5 150.8V165.6M1152 163.5h2M1155 156.5h2M1157.5 149.1V162.8M1155 156.5h2M1158 160.5h2M1159.5 146.0V166.0M1157 160.5h2M1160 150.5h2M1162.5 130.5V151.8M1160 149.5h2M1163 133.5h2M1165.5 128.3V138.2M1163 134.5h2M1166 132.5h2M1167.5 115.4V135.3M1165 132.5h2M1168 119.5h2M1170.5 113.1V126.2M1168 118.5h2M1171 124.5h2M1173.5 120.8V144.2M1171 123.5h2M1174 140.5h2M1175.5 133.0V159.5M1173 139.5h2M1176 153.5h2M1178.5 136.3V159.0M1176 153.5h2M1179 139.5h2M1181.5 136.9V162.6M1179 140.5h2M1182 159.5h2M1183.5 155.1V183.7M1181 159.5h2M1184 177.5h2M1186.5 172.3V194.4M1184 177.5h2M1187 189.5h2M1189.5 180.3V194.3M1187 189.5h2M1190 183.5h2M1191.5 177.1V199.4M1189 183.5h2M1192 189.5h2M1194.5 165.9V195.5M1192 189.5h2M1195 171.5h2M1196.5 152.5V177.2M1194 171.5h2M1197 156.5h2M1199.5 148.9V175.0M1197 155.5h2M1200 169.5h2M1202.5 140.8V174.1M1200 168.5h2M1203 147.5h2M1204.5 142.9V154.8M1202 147.5h2M1205 149.5h2M1207.5 139.0V156.3M1205 150.5h2M1208 143.5h2M1210.5 133.9V145.9M1208 143.5h2M1211 139.5h2M1212.5 134.5V157.8M1210 139.5h2M1213 152.5h2M1215.5 146.8V167.9M1213 153.5h2M1216 161.5h2M1218.5 157.1V166.0M1216 161.5h2M1219 161.5h2M1220.5 158.5V166.9M1218 162.5h2M1221 162.5h2M1223.5 153.0V164.5M1221 163.5h2M1224 156.5h2M1226.5 140.8V159.3M1224 156.5h2M1227 146.5h2M1228.5 143.1V151.8M1226 147.5h2M1229 148.5h2M1231.5 135.5V152.1M1229 148.5h2M1232 139.5h2M1234.5 129.3V141.3M1232 138.5h2M1235 133.5h2M1236.5 129.9V140.9M1234 132.5h2M1237 137.5h2M1239.5 133.1V139.8M1237 137.5h2M1240 138.5h2M1241.5 134.8V150.3M1239 137.5h2M1242 149.5h2M1244.5 138.4V150.5M1242 149.5h2M1245 141.5h2M1247.5 137.2V165.6M1245 141.5h2M1248 160.5h2M1249.5 150.9V165.2M1247 160.5h2M1250 154.5h2M1252.5 142.8V157.7M1250 154.5h2M1253 149.5h2M1255.5 128.9V153.3M1253 149.5h2M1256 135.5h2M1257.5 133.8V140.2M1255 136.5h2M1258 136.5h2M1260.5 128.8V138.2M1258 135.5h2M1261 132.5h2M1263.5 130.3V137.9M1261 132.5h2M1264 133.5h2M1265.5 125.9V137.6M1263 133.5h2M1266 130.5h2M1268.5 126.0V135.0M1266 129.5h2M1269 133.5h2M1271.5 130.8V138.2M1269 133.5h2M1272 134.5h2M1273.5 122.9V136.3M1271 134.5h2M1274 127.5h2M1276.5 123.9V130.4M1274 128.5h2M1277 126.5h2M1278.5 117.7V130.6M1276 127.5h2M1279 119.5h2M1281.5 115.2V121.7M1279 119.5h2M1282 117.5h2M1284.5 104.5V121.1M1282 117.5h2M1285 107.5h2M1286.5 104.5V117.8M1284 107.5h2M1287 113.5h2M1289.5 102.3V117.0M1287 112.5h2M1290 104.5h2M1292.5 99.0V110.2M1290 103.5h2M1293 108.5h2M1294.5 95.0V109.3M1292 108.5h2M1295 99.5h2M1297.5 91.5V103.5M1295 100.5h2M1298 96.5h2M1300.5 90.7V98.5M1298 97.5h2M1301 92.5h2M1302.5 88.5V104.0M1300 93.5h2M1303 101.5h2M1305.5 97.3V106.9M1303 102.5h2M1306 103.5h2M1308.5 98.5V114.6M1306 103.5h2M1309 111.5h2M1310.5 104.0V115.2M1308 111.5h2M1311 108.5h2M1313.5 93.6V109.4M1311 107.5h2M1314 98.5h2M1315.5 94.6V107.3M1313 98.5h2M1316 103.5h2M1318.5 98.7V107.2M1316 103.5h2M1319 104.5h2M1321.5 102.0V117.4M1319 104.5h2M1322 116.5h2M1323.5 114.0V121.5M1321 116.5h2M1324 118.5h2M1326.5 113.5V122.2M1324 119.5h2M1327 117.5h2M1329.5 110.4V117.8M1327 117.5h2M1330 115.5h2M1331.5 111.3V127.8M1329 114.5h2M1332 124.5h2M1334.5 119.4V135.8M1332 124.5h2M1335 134.5h2M1337.5 112.0V133.4M1335 135.5h2M1338 112.5h2M1339.5 106.5V113.5M1337 112.5h2M1340 107.5h2M1342.5 97.6V108.5M1340 107.5h2M1343 98.5h2M1345.5 94.2V98.5M1343 98.5h2M1346 94.5h2M1347.5 91.0V96.4M1345 94.5h2M1348 91.5h2M1350.5 89.9V95.3M1348 91.5h2M1351 90.5h2M1353.5 79.1V91.3M1351 90.5h2M1354 81.5h2M1355.5 75.8V82.5M1353 81.5h2M1356 78.5h2M1358.5 74.6V78.1M1356 78.5h2M1359 76.5h2M1360.5 77.8V83.8M1358 76.5h2M1361 83.5h2M1363.5 73.8V83.8M1361 83.5h2M1364 75.5h2M1366.5 70.6V81.1M1364 75.5h2M1367 71.5h2M1368.5 65.3V70.3M1366 70.5h2M1369 67.5h2M1371.5 59.9V70.3M1369 67.5h2M1372 61.5h2M1374.5 55.6V64.4M1372 61.5h2M1375 56.5h2M1376.5 54.2V64.3M1374 55.5h2M1377 57.5h2M1379.5 50.4V62.9M1377 58.5h2M1380 51.5h2M1382.5 47.1V53.4M1380 50.5h2M1383 47.5h2M1384.5 43.3V51.4M1382 47.5h2M1385 48.5h2M1387.5 44.1V49.7M1385 48.5h2M1388 49.5h2M1390.5 37.8V48.7M1388 49.5h2M1391 40.5h2M1392.5 37.6V42.2M1390 40.5h2M1393 38.5h2M1395.5 37.7V46.5M1393 39.5h2M1396 42.5h2M1397.5 40.6V49.5M1395 42.5h2M1398 48.5h2" stroke="#000" fill="none" shape-rendering="crispEdges"/>
<clipPath id="cp"><rect x="16" y="30" width="1440" height="435"/></clipPath>
<g clip-path="url(#cp)"><polyline points="62.0,514.4 64.6,513.2 67.3,512.0 69.9,510.8 72.6,509.5 75.2,508.3 77.9,507.0 80.5,505.8 83.2,504.7 85.8,503.6 88.4,502.6 91.1,501.4 93.7,500.2 96.4,498.9 99.0,497.7 101.7,496.5 104.3,495.2 107.0,494.0 109.6,492.9 112.2,491.8 114.9,490.6 117.5,489.5 120.2,488.4 122.8,487.4 125.5,486.4 128.1,485.5 130.8,484.5 133.4,483.4 136.0,482.3 138.7,481.2 141.3,480.2 144.0,479.2 146.6,478.0 149.3,476.9 151.9,475.8 154.6,474.6 157.2,473.5 159.8,472.3 162.5,471.2 165.1,470.0 167.8,468.9 170.4,467.8 173.1,466.7 175.7,465.6 178.4,464.6 181.0,463.5 183.6,462.5 186.3,461.5 188.9,460.5 191.6,459.5 194.2,458.6 196.9,457.6 199.5,456.7 202.2,455.7 204.8,454.9 207.4,454.1 210.1,453.4 212.7,452.6 215.4,451.8 218.0,451.1 220.7,450.3 223.3,449.5 226.0,448.6 228.6,447.7 231.2,446.8 233.9,445.8 236.5,445.0 239.2,444.1 241.8,443.3 244.5,442.4 247.1,441.7 249.8,441.0 252.4,440.2 255.0,439.5 257.7,438.9 260.3,438.5 263.0,438.0 265.6,437.4 268.3,437.0 270.9,436.6 273.6,436.2 276.2,435.7 278.8,435.1 281.5,434.5 284.1,433.9 286.8,433.4 289.4,432.8 292.1,432.2 294.7,431.6 297.4,430.9 300.0,430.3 302.7,429.7 305.3,429.1 307.9,428.6 310.6,428.0 313.2,427.4 315.9,426.9 318.5,426.3 321.2,425.8 323.8,425.2 326.5,424.5 329.1,423.9 331.7,423.2 334.4,422.5 337.0,421.8 339.7,421.2 342.3,420.6 345.0,420.0 347.6,419.4 350.3,419.0 352.9,418.5 355.5,418.0 358.2,417.5 360.8,417.1 363.5,416.6 366.1,416.2 368.8,415.8 371.4,415.4 374.1,415.0 376.7,414.6 379.3,414.1 382.0,413.6 384.6,413.0 387.3,412.4 389.9,411.8 392.6,411.3 395.2,410.7 397.9,410.2 400.5,409.7 403.1,409.1 405.8,408.6 408.4,408.0 411.1,407.3 413.7,406.6 416.4,406.0 419.0,405.3 421.7,404.7 424.3,404.1 426.9,403.5 429.6,402.9 432.2,402.4 434.9,401.9 437.5,401.4 440.2,400.8 442.8,400.3 445.5,399.8 448.1,399.2 450.7,398.6 453.4,398.1 456.0,397.4 458.7,396.8 461.3,396.2 464.0,395.7 466.6,395.1 469.3,394.5 471.9,393.9 474.5,393.4 477.2,392.8 479.8,392.2 482.5,391.6 485.1,390.9 487.8,390.3 490.4,389.7 493.1,389.1 495.7,388.5 498.3,387.9 501.0,387.3 503.6,386.7 506.3,386.0 508.9,385.4 511.6,384.8 514.2,384.2 516.9,383.5 519.5,382.8 522.1,382.0 524.8,381.2 527.4,380.5 530.1,379.8 532.7,379.0 535.4,378.2 538.0,377.4 540.7,376.4 543.3,375.6 545.9,375.0 548.6,374.2 551.2,373.4 553.9,372.7 556.5,371.9 559.2,371.2 561.8,370.6 564.5,370.0 567.1,369.5 569.7,368.8 572.4,368.2 575.0,367.5 577.7,366.9 580.3,366.1 583.0,365.4 585.6,364.7 588.3,364.0 590.9,363.2 593.5,362.4 596.2,361.6 598.8,360.9 601.5,360.0 604.1,359.1 606.8,358.1 609.4,357.2 612.1,356.2 614.7,355.2 617.3,354.2 620.0,353.2 622.6,352.2 625.3,351.4 627.9,350.4 630.6,349.5 633.2,348.5 635.9,347.7 638.5,346.9 641.1,346.2 643.8,345.5 646.4,344.7 649.1,343.9 651.7,343.2 654.4,342.4 657.0,341.5 659.7,340.7 662.3,340.0 664.9,339.4 667.6,338.7 670.2,338.1 672.9,337.4 675.5,336.7 678.2,336.0 680.8,335.3 683.5,334.6 686.1,333.8 688.7,333.0 691.4,332.3 694.0,331.6 696.7,330.8 699.3,330.0 702.0,329.2 704.6,328.3 707.3,327.5 709.9,326.6 712.5,325.7 715.2,324.8 717.8,324.0 720.5,323.2 723.1,322.5 725.8,321.9 728.4,321.1 731.1,320.4 733.7,319.6 736.3,318.9 739.0,318.0 741.6,317.2 744.3,316.4 746.9,315.5 749.6,314.7 752.2,313.9 754.9,313.2 757.5,312.5 760.1,311.7 762.8,310.9 765.4,310.0 768.1,309.1 770.7,308.3 773.4,307.5 776.0,306.8 778.7,306.0 781.3,305.2 783.9,304.4 786.6,303.6 789.2,302.8 791.9,301.9 794.5,301.1 797.2,300.3 799.8,299.4 802.5,298.5 805.1,297.6 807.7,296.8 810.4,295.9 813.0,295.0 815.7,294.1 818.3,293.3 821.0,292.4 823.6,291.4 826.3,290.5 828.9,289.9 831.6,289.3 834.2,289.0 836.8,289.1 839.5,288.9 842.1,288.8 844.8,288.5 847.4,288.1 850.1,287.7 852.7,287.3 855.4,286.8 858.0,286.4 860.6,285.9 863.3,285.4 865.9,284.7 868.6,284.2 871.2,283.6 873.9,283.1 876.5,282.4 879.2,281.7 881.8,281.0 884.4,280.3 887.1,279.6 889.7,278.8 892.4,278.0 895.0,277.3 897.7,276.4 900.3,275.6 903.0,274.9 905.6,274.3 908.2,273.6 910.9,272.9 913.5,272.1 916.2,271.4 918.8,270.6 921.5,270.1 924.1,269.3 926.8,268.5 929.4,267.8 932.0,267.0 934.7,266.2 937.3,265.5 940.0,264.7 942.6,263.7 945.3,262.8 947.9,261.9 950.6,260.9 953.2,260.0 955.8,259.2 958.5,258.0 961.1,256.9 963.8,255.8 966.4,254.8 969.1,253.8 971.7,252.7 974.4,251.6 977.0,250.5 979.6,249.4 982.3,248.2 984.9,247.0 987.6,245.8 990.2,244.6 992.9,243.3 995.5,242.1 998.2,241.0 1000.8,239.8 1003.4,238.6 1006.1,237.4 1008.7,236.3 1011.4,235.1 1014.0,233.9 1016.7,232.7 1019.3,231.5 1022.0,230.2 1024.6,229.0 1027.2,227.8 1029.9,226.6 1032.5,225.3 1035.2,223.9 1037.8,222.5 1040.5,221.1 1043.1,219.7 1045.8,218.4 1048.4,217.1 1051.0,215.7 1053.7,214.4 1056.3,212.9 1059.0,211.3 1061.6,209.6 1064.3,207.9 1066.9,206.2 1069.6,204.7 1072.2,203.3 1074.8,201.7 1077.5,200.3 1080.1,198.8 1082.8,197.3 1085.4,195.9 1088.1,194.5 1090.7,193.3 1093.4,192.1 1096.0,190.8 1098.6,189.6 1101.3,188.6 1103.9,187.5 1106.6,186.5 1109.2,185.5 1111.9,184.4 1114.5,183.2 1117.2,182.0 1119.8,180.8 1122.4,179.7 1125.1,178.7 1127.7,177.8 1130.4,176.9 1133.0,176.2 1135.7,175.5 1138.3,174.7 1141.0,173.9 1143.6,173.3 1146.2,172.8 1148.9,172.1 1151.5,171.4 1154.2,170.7 1156.8,170.0 1159.5,169.3 1162.1,168.6 1164.8,167.8 1167.4,166.8 1170.0,166.0 1172.7,165.2 1175.3,164.6 1178.0,163.8 1180.6,163.3 1183.3,162.9 1185.9,162.6 1188.6,162.2 1191.2,161.9 1193.8,161.5 1196.5,161.0 1199.1,160.6 1201.8,160.1 1204.4,159.6 1207.1,159.1 1209.7,158.6 1212.4,158.1 1215.0,157.7 1217.6,157.4 1220.3,157.1 1222.9,156.7 1225.6,156.0 1228.2,155.3 1230.9,154.4 1233.5,153.2 1236.2,152.1 1238.8,151.1 1241.4,150.3 1244.1,149.5 1246.7,148.8 1249.4,148.1 1252.0,147.4 1254.7,146.6 1257.3,145.9 1260.0,145.1 1262.6,144.5 1265.2,143.8 1267.9,143.1 1270.5,142.4 1273.2,141.7 1275.8,141.0 1278.5,140.3 1281.1,139.6 1283.8,138.9 1286.4,138.3 1289.0,137.6 1291.7,136.9 1294.3,136.3 1297.0,135.6 1299.6,134.8 1302.3,134.0 1304.9,133.3 1307.6,132.7 1310.2,132.1 1312.8,131.4 1315.5,130.8 1318.1,130.0 1320.8,129.5 1323.4,129.1 1326.1,128.6 1328.7,128.2 1331.4,127.8 1334.0,127.6 1336.7,127.2 1339.3,126.7 1341.9,126.2 1344.6,125.8 1347.2,125.3 1349.9,124.8 1352.5,124.2 1355.2,123.6 1357.8,123.1 1360.5,122.6 1363.1,122.0 1365.7,121.4 1368.4,120.8 1371.0,120.2 1373.7,119.5 1376.3,118.9 1379.0,118.3 1381.6,117.7 1384.3,117.2 1386.9,116.6 1389.5,116.0 1392.2,115.3 1394.8,114.7 1397.5,114.1" fill="none" stroke="#2f6238" stroke-width="1.3"/>
<polyline points="14.4,468.3 17.0,467.3 19.7,466.2 22.3,465.2 25.0,464.1 27.6,462.9 30.3,461.7 32.9,460.3 35.6,458.7 38.2,457.0 40.8,455.5 43.5,453.9 46.1,452.4 48.8,450.9 51.4,449.5 54.1,448.2 56.7,447.0 59.4,446.2 62.0,445.3 64.6,444.5 67.3,443.6 69.9,442.5 72.6,441.5 75.2,440.4 77.9,439.4 80.5,438.7 83.2,438.0 85.8,437.6 88.4,437.4 91.1,436.8 93.7,435.6 96.4,434.3 99.0,433.1 101.7,431.9 104.3,430.8 107.0,429.7 109.6,429.0 112.2,427.9 114.9,426.8 117.5,425.8 120.2,424.9 122.8,423.8 125.5,422.9 128.1,422.2 130.8,421.4 133.4,420.3 136.0,419.2 138.7,418.2 141.3,417.4 144.0,416.9 146.6,416.1 149.3,415.6 151.9,415.1 154.6,414.5 157.2,414.0 159.8,413.3 162.5,412.7 165.1,411.8 167.8,410.8 170.4,410.0 173.1,409.4 175.7,409.0 178.4,408.6 181.0,408.0 183.6,407.6 186.3,407.1 188.9,406.6 191.6,405.5 194.2,404.6 196.9,404.0 199.5,403.7 202.2,403.4 204.8,403.7 207.4,404.1 210.1,404.8 212.7,405.3 215.4,405.5 218.0,406.2 220.7,406.8 223.3,407.1 226.0,407.1 228.6,406.8 231.2,406.7 233.9,406.2 236.5,406.4 239.2,406.4 241.8,406.5 244.5,406.6 247.1,406.8 249.8,407.1 252.4,407.3 255.0,407.4 257.7,408.1 260.3,409.1 263.0,410.0 265.6,410.8 268.3,411.9 270.9,413.1 273.6,414.1 276.2,415.0 278.8,415.5 281.5,415.9 284.1,416.1 286.8,416.4 289.4,416.6 292.1,416.7 294.7,416.7 297.4,416.9 300.0,416.9 302.7,417.2 305.3,417.3 307.9,417.5 310.6,416.9 313.2,416.3 315.9,415.5 318.5,414.9 321.2,414.5 323.8,413.7 326.5,412.8 329.1,412.1 331.7,411.4 334.4,411.0 337.0,410.5 339.7,410.1 342.3,409.3 345.0,408.9 347.6,408.5 350.3,408.3 352.9,407.7 355.5,406.9 358.2,406.4 360.8,405.9 363.5,404.9 366.1,403.6 368.8,402.6 371.4,401.9 374.1,400.6 376.7,399.1 379.3,397.7 382.0,396.6 384.6,395.4 387.3,394.3 389.9,393.3 392.6,392.4 395.2,391.4 397.9,390.4 400.5,389.5 403.1,388.6 405.8,387.5 408.4,386.3 411.1,385.0 413.7,383.5 416.4,382.3 419.0,381.0 421.7,379.8 424.3,378.6 426.9,377.1 429.6,376.0 432.2,375.1 434.9,374.3 437.5,373.4 440.2,372.4 442.8,371.5 445.5,370.6 448.1,369.6 450.7,368.4 453.4,367.4 456.0,366.0 458.7,364.8 461.3,363.6 464.0,362.6 466.6,361.2 469.3,359.8 471.9,358.4 474.5,356.9 477.2,355.4 479.8,354.3 482.5,353.2 485.1,352.1 487.8,351.0 490.4,350.0 493.1,349.0 495.7,348.0 498.3,346.7 501.0,345.6 503.6,344.3 506.3,343.1 508.9,341.9 511.6,340.7 514.2,339.7 516.9,338.7 519.5,337.6 522.1,336.5 524.8,335.3 527.4,334.1 530.1,332.8 532.7,331.3 535.4,329.6 538.0,327.7 540.7,325.6 543.3,324.2 545.9,323.3 548.6,322.0 551.2,320.6 553.9,319.5 556.5,318.2 559.2,317.0 561.8,316.4 564.5,315.6 567.1,315.0 569.7,314.1 572.4,313.3 575.0,312.5 577.7,311.8 580.3,310.9 583.0,309.9 585.6,308.8 588.3,307.7 590.9,306.6 593.5,305.4 596.2,304.4 598.8,303.7 601.5,302.8 604.1,301.8 606.8,300.9 609.4,300.0 612.1,299.1 614.7,298.2 617.3,297.2 620.0,296.2 622.6,295.1 625.3,294.3 627.9,293.4 630.6,292.5 633.2,291.6 635.9,290.9 638.5,290.8 641.1,290.9 643.8,291.4 646.4,291.9 649.1,291.9 651.7,291.4 654.4,291.8 657.0,291.8 659.7,292.0 662.3,292.6 664.9,293.8 667.6,294.2 670.2,294.6 672.9,294.6 675.5,294.6 678.2,294.6 680.8,294.4 683.5,294.3 686.1,294.1 688.7,293.8 691.4,293.5 694.0,293.5 696.7,293.3 699.3,293.3 702.0,293.0 704.6,292.4 707.3,291.8 709.9,291.5 712.5,291.0 715.2,290.5 717.8,290.4 720.5,290.3 723.1,290.4 725.8,290.8 728.4,290.9 731.1,290.9 733.7,290.7 736.3,290.6 739.0,290.4 741.6,289.9 744.3,289.2 746.9,288.3 749.6,287.3 752.2,286.6 754.9,286.2 757.5,285.8 760.1,284.8 762.8,284.0 765.4,282.7 768.1,281.4 770.7,279.5 773.4,277.9 776.0,276.4 778.7,275.0 781.3,273.8 783.9,272.5 786.6,271.2 789.2,269.8 791.9,268.6 794.5,267.5 797.2,266.3 799.8,264.9 802.5,263.6 805.1,262.1 807.7,260.8 810.4,259.6 813.0,258.2 815.7,256.9 818.3,256.0 821.0,254.7 823.6,253.1 826.3,251.6 828.9,251.2 831.6,250.5 834.2,251.0 836.8,252.9 839.5,254.2 842.1,255.7 844.8,256.3 847.4,256.8 850.1,257.2 852.7,257.9 855.4,257.9 858.0,258.0 860.6,257.8 863.3,257.2 865.9,256.3 868.6,256.1 871.2,255.8 873.9,255.8 876.5,255.2 879.2,254.5 881.8,253.6 884.4,252.9 887.1,252.1 889.7,251.2 892.4,250.3 895.0,249.4 897.7,248.1 900.3,247.2 903.0,246.6 905.6,246.1 908.2,245.9 910.9,245.5 913.5,244.7 916.2,244.1 918.8,243.6 921.5,243.7 924.1,242.8 926.8,242.0 929.4,241.4 932.0,240.5 934.7,238.2 937.3,236.0 940.0,233.0 942.6,228.7 945.3,225.0 947.9,221.0 950.6,218.1 953.2,215.3 955.8,212.7 958.5,209.6 961.1,206.7 963.8,203.7 966.4,201.3 969.1,199.1 971.7,196.9 974.4,194.5 977.0,192.1 979.6,189.3 982.3,186.6 984.9,183.8 987.6,181.2 990.2,178.7 992.9,176.1 995.5,173.9 998.2,171.8 1000.8,169.7 1003.4,167.8 1006.1,165.7 1008.7,163.6 1011.4,161.1 1014.0,158.4 1016.7,155.8 1019.3,153.7 1022.0,151.4 1024.6,149.1 1027.2,146.2 1029.9,143.8 1032.5,141.7 1035.2,139.4 1037.8,137.2 1040.5,135.4 1043.1,133.6 1045.8,131.8 1048.4,130.3 1051.0,128.8 1053.7,127.2 1056.3,125.4 1059.0,123.6 1061.6,121.3 1064.3,119.5 1066.9,117.8 1069.6,116.2 1072.2,114.5 1074.8,112.6 1077.5,111.0 1080.1,109.2 1082.8,107.4 1085.4,106.0 1088.1,104.8 1090.7,104.3 1093.4,103.7 1096.0,103.0 1098.6,102.6 1101.3,102.2 1103.9,101.7 1106.6,101.5 1109.2,101.5 1111.9,101.0 1114.5,100.2 1117.2,99.6 1119.8,99.3 1122.4,99.3 1125.1,99.4 1127.7,100.0 1130.4,100.6 1133.0,101.5 1135.7,102.8 1138.3,103.4 1141.0,104.3 1143.6,105.7 1146.2,107.4 1148.9,108.6 1151.5,110.0 1154.2,111.1 1156.8,112.2 1159.5,113.4 1162.1,114.3 1164.8,115.4 1167.4,116.3 1170.0,117.4 1172.7,118.8 1175.3,120.4 1178.0,121.5 1180.6,123.4 1183.3,125.6 1185.9,128.3 1188.6,130.9 1191.2,133.5 1193.8,135.7 1196.5,136.9 1199.1,138.5 1201.8,139.7 1204.4,140.8 1207.1,141.6 1209.7,142.4 1212.4,143.3 1215.0,144.2 1217.6,145.7 1220.3,147.5 1222.9,149.1 1225.6,150.3 1228.2,151.3 1230.9,151.8 1233.5,151.8 1236.2,151.9 1238.8,151.8 1241.4,151.6 1244.1,151.9 1246.7,152.5 1249.4,152.4 1252.0,151.7 1254.7,151.2 1257.3,150.5 1260.0,149.9 1262.6,149.3 1265.2,148.7 1267.9,148.7 1270.5,148.8 1273.2,149.0 1275.8,149.1 1278.5,148.5 1281.1,147.6 1283.8,146.7 1286.4,145.5 1289.0,143.7 1291.7,141.7 1294.3,139.6 1297.0,137.3 1299.6,135.3 1302.3,133.9 1304.9,132.3 1307.6,131.4 1310.2,130.3 1312.8,129.2 1315.5,128.3 1318.1,127.1 1320.8,126.0 1323.4,124.9 1326.1,123.8 1328.7,122.8 1331.4,122.3 1334.0,122.0 1336.7,121.3 1339.3,120.7 1341.9,119.7 1344.6,118.6 1347.2,117.1 1349.9,115.9 1352.5,113.9 1355.2,112.0 1357.8,110.2 1360.5,108.9 1363.1,107.4 1365.7,105.8 1368.4,104.1 1371.0,102.4 1373.7,100.4 1376.3,98.5 1379.0,96.5 1381.6,94.5 1384.3,92.7 1386.9,91.0 1389.5,89.2 1392.2,87.3 1394.8,85.7 1397.5,84.1" fill="none" stroke="#c8323e" stroke-width="1.5"/></g>
<clipPath id="cq"><rect x="16" y="479" width="1440" height="152"/></clipPath>
<g clip-path="url(#cq)"><path d="M13.5 559.5V562.5H16.5V559.5M16.5 559.5V565.5H18.5V559.5M18.5 559.5V564.5H21.5V559.5M21.5 559.5V564.5H24.5V559.5M24.5 559.5V563.5H26.5V559.5M26.5 559.5V562.5H29.5V559.5M29.5 559.5V562.5H32.5V559.5M32.5 559.5V561.5H34.5V559.5M34 559.5H37M37.5 559.5V557.5H40.5V559.5M40.5 559.5V556.5H42.5V559.5M42.5 559.5V555.5H45.5V559.5M45.5 559.5V555.5H47.5V559.5M47.5 559.5V554.5H50.5V559.5M50.5 559.5V555.5H53.5V559.5M53.5 559.5V556.5H55.5V559.5M55.5 559.5V557.5H58.5V559.5M58.5 559.5V561.5H61.5V559.5M61.5 559.5V563.5H63.5V559.5M63.5 559.5V564.5H66.5V559.5M66.5 559.5V562.5H69.5V559.5M69.5 559.5V561.5H71.5V559.5M71.5 559.5V560.5H74.5V559.5M74.5 559.5V561.5H77.5V559.5M77.5 559.5V560.5H79.5V559.5M79.5 559.5V561.5H82.5V559.5M82.5 559.5V563.5H84.5V559.5M84.5 559.5V568.5H87.5V559.5M87.5 559.5V571.5H90.5V559.5M90.5 559.5V569.5H92.5V559.5M92.5 559.5V565.5H95.5V559.5M95.5 559.5V561.5H98.5V559.5M98 559.5H100M100.5 559.5V556.5H103.5V559.5M103.5 559.5V555.5H106.5V559.5M106.5 559.5V554.5H108.5V559.5M108.5 559.5V558.5H111.5V559.5M111.5 559.5V557.5H114.5V559.5M114.5 559.5V556.5H116.5V559.5M116.5 559.5V557.5H119.5V559.5M119 559.5H122M122.5 559.5V562.5H124.5V559.5M124.5 559.5V562.5H127.5V559.5M127.5 559.5V565.5H129.5V559.5M129.5 559.5V564.5H132.5V559.5M132.5 559.5V561.5H135.5V559.5M135 559.5H137M137.5 559.5V558.5H140.5V559.5M140 559.5H143M143.5 559.5V561.5H145.5V559.5M145.5 559.5V560.5H148.5V559.5M148.5 559.5V562.5H151.5V559.5M151.5 559.5V562.5H153.5V559.5M153.5 559.5V561.5H156.5V559.5M156.5 559.5V562.5H159.5V559.5M159.5 559.5V560.5H161.5V559.5M161.5 559.5V560.5H164.5V559.5M164 559.5H166M166 559.5H169M169 559.5H172M172.5 559.5V560.5H174.5V559.5M174.5 559.5V561.5H177.5V559.5M177.5 559.5V562.5H180.5V559.5M180.5 559.5V562.5H182.5V559.5M182.5 559.5V563.5H185.5V559.5M185.5 559.5V564.5H188.5V559.5M188.5 559.5V565.5H190.5V559.5M190.5 559.5V563.5H193.5V559.5M193.5 559.5V564.5H196.5V559.5M196.5 559.5V563.5H198.5V559.5M198.5 559.5V564.5H201.5V559.5M201.5 559.5V563.5H203.5V559.5M203.5 559.5V569.5H206.5V559.5M206.5 559.5V571.5H209.5V559.5M209.5 559.5V576.5H211.5V559.5M211.5 559.5V575.5H214.5V559.5M214.5 559.5V575.5H217.5V559.5M217.5 559.5V575.5H219.5V559.5M219.5 559.5V573.5H222.5V559.5M222.5 559.5V568.5H225.5V559.5M225.5 559.5V563.5H227.5V559.5M227.5 559.5V557.5H230.5V559.5M230.5 559.5V554.5H233.5V559.5M233.5 559.5V550.5H235.5V559.5M235.5 559.5V553.5H238.5V559.5M238.5 559.5V551.5H241.5V559.5M241.5 559.5V550.5H243.5V559.5M243.5 559.5V550.5H246.5V559.5M246.5 559.5V554.5H248.5V559.5M248.5 559.5V558.5H251.5V559.5M251.5 559.5V557.5H254.5V559.5M254.5 559.5V558.5H256.5V559.5M256.5 559.5V564.5H259.5V559.5M259.5 559.5V570.5H262.5V559.5M262.5 559.5V572.5H264.5V559.5M264.5 559.5V571.5H267.5V559.5M267.5 559.5V572.5H270.5V559.5M270.5 559.5V574.5H272.5V559.5M272.5 559.5V571.5H275.5V559.5M275.5 559.5V566.5H278.5V559.5M278.5 559.5V560.5H280.5V559.5M280.5 559.5V555.5H283.5V559.5M283.5 559.5V550.5H285.5V559.5M285.5 559.5V549.5H288.5V559.5M288.5 559.5V546.5H291.5V559.5M291.5 559.5V546.5H293.5V559.5M293.5 559.5V545.5H296.5V559.5M296.5 559.5V545.5H299.5V559.5M299.5 559.5V546.5H301.5V559.5M301.5 559.5V549.5H304.5V559.5M304.5 559.5V551.5H307.5V559.5M307.5 559.5V553.5H309.5V559.5M309.5 559.5V552.5H312.5V559.5M312.5 559.5V552.5H315.5V559.5M315.5 559.5V553.5H317.5V559.5M317.5 559.5V555.5H320.5V559.5M320.5 559.5V558.5H322.5V559.5M322.5 559.5V557.5H325.5V559.5M325.5 559.5V555.5H328.5V559.5M328.5 559.5V553.5H330.5V559.5M330.5 559.5V551.5H333.5V559.5M333.5 559.5V551.5H336.5V559.5M336.5 559.5V551.5H338.5V559.5M338.5 559.5V552.5H341.5V559.5M341.5 559.5V553.5H344.5V559.5M344.5 559.5V555.5H346.5V559.5M346.5 559.5V556.5H349.5V559.5M349.5 559.5V560.5H352.5V559.5M352.5 559.5V562.5H354.5V559.5M354.5 559.5V562.5H357.5V559.5M357.5 559.5V562.5H360.5V559.5M360.5 559.5V563.5H362.5V559.5M362.5 559.5V564.5H365.5V559.5M365.5 559.5V565.5H367.5V559.5M367.5 559.5V566.5H370.5V559.5M370.5 559.5V568.5H373.5V559.5M373.5 559.5V566.5H375.5V559.5M375.5 559.5V563.5H378.5V559.5M378.5 559.5V560.5H381.5V559.5M381 559.5H383M383.5 559.5V555.5H386.5V559.5M386.5 559.5V554.5H389.5V559.5M389.5 559.5V553.5H391.5V559.5M391.5 559.5V554.5H394.5V559.5M394.5 559.5V553.5H397.5V559.5M397.5 559.5V554.5H399.5V559.5M399.5 559.5V555.5H402.5V559.5M402.5 559.5V554.5H404.5V559.5M404.5 559.5V555.5H407.5V559.5M407.5 559.5V555.5H410.5V559.5M410.5 559.5V554.5H412.5V559.5M412.5 559.5V553.5H415.5V559.5M415.5 559.5V552.5H418.5V559.5M418.5 559.5V553.5H420.5V559.5M420.5 559.5V554.5H423.5V559.5M423.5 559.5V557.5H426.5V559.5M426.5 559.5V558.5H428.5V559.5M428.5 559.5V560.5H431.5V559.5M431.5 559.5V562.5H434.5V559.5M434.5 559.5V563.5H436.5V559.5M436.5 559.5V562.5H439.5V559.5M439.5 559.5V561.5H441.5V559.5M441.5 559.5V561.5H444.5V559.5M444.5 559.5V562.5H447.5V559.5M447.5 559.5V561.5H449.5V559.5M449 559.5H452M452 559.5H455M455 559.5H457M457.5 559.5V560.5H460.5V559.5M460.5 559.5V561.5H463.5V559.5M463.5 559.5V561.5H465.5V559.5M465.5 559.5V561.5H468.5V559.5M468.5 559.5V560.5H471.5V559.5M471.5 559.5V560.5H473.5V559.5M473.5 559.5V560.5H476.5V559.5M476.5 559.5V561.5H479.5V559.5M479.5 559.5V563.5H481.5V559.5M481.5 559.5V564.5H484.5V559.5M484.5 559.5V563.5H486.5V559.5M486.5 559.5V563.5H489.5V559.5M489.5 559.5V561.5H492.5V559.5M492.5 559.5V561.5H494.5V559.5M494 559.5H497M497.5 559.5V558.5H500.5V559.5M500.5 559.5V557.5H502.5V559.5M502.5 559.5V556.5H505.5V559.5M505.5 559.5V555.5H508.5V559.5M508.5 559.5V555.5H510.5V559.5M510.5 559.5V556.5H513.5V559.5M513.5 559.5V557.5H516.5V559.5M516.5 559.5V557.5H518.5V559.5M518.5 559.5V556.5H521.5V559.5M521.5 559.5V556.5H523.5V559.5M523.5 559.5V555.5H526.5V559.5M526.5 559.5V555.5H529.5V559.5M529.5 559.5V555.5H531.5V559.5M531.5 559.5V554.5H534.5V559.5M534.5 559.5V552.5H537.5V559.5M537.5 559.5V550.5H539.5V559.5M539.5 559.5V548.5H542.5V559.5M542.5 559.5V552.5H545.5V559.5M545.5 559.5V561.5H547.5V559.5M547.5 559.5V562.5H550.5V559.5M550.5 559.5V563.5H553.5V559.5M553.5 559.5V566.5H555.5V559.5M555.5 559.5V564.5H558.5V559.5M558.5 559.5V564.5H560.5V559.5M560.5 559.5V571.5H563.5V559.5M563.5 559.5V573.5H566.5V559.5M566.5 559.5V575.5H568.5V559.5M568.5 559.5V574.5H571.5V559.5M571.5 559.5V572.5H574.5V559.5M574.5 559.5V570.5H576.5V559.5M576.5 559.5V569.5H579.5V559.5M579.5 559.5V566.5H582.5V559.5M582.5 559.5V564.5H584.5V559.5M584.5 559.5V563.5H587.5V559.5M587.5 559.5V561.5H590.5V559.5M590.5 559.5V558.5H592.5V559.5M592.5 559.5V557.5H595.5V559.5M595.5 559.5V557.5H598.5V559.5M598 559.5H600M600 559.5H603M603.5 559.5V557.5H605.5V559.5M605.5 559.5V557.5H608.5V559.5M608.5 559.5V556.5H611.5V559.5M611.5 559.5V555.5H613.5V559.5M613.5 559.5V555.5H616.5V559.5M616.5 559.5V555.5H619.5V559.5M619.5 559.5V554.5H621.5V559.5M621.5 559.5V554.5H624.5V559.5M624.5 559.5V555.5H627.5V559.5M627.5 559.5V555.5H629.5V559.5M629.5 559.5V554.5H632.5V559.5M632.5 559.5V555.5H635.5V559.5M635.5 559.5V557.5H637.5V559.5M637.5 559.5V563.5H640.5V559.5M640.5 559.5V567.5H642.5V559.5M642.5 559.5V573.5H645.5V559.5M645.5 559.5V574.5H648.5V559.5M648.5 559.5V572.5H650.5V559.5M650.5 559.5V572.5H653.5V559.5M653.5 559.5V575.5H656.5V559.5M656.5 559.5V572.5H658.5V559.5M658.5 559.5V574.5H661.5V559.5M661.5 559.5V576.5H664.5V559.5M664.5 559.5V583.5H666.5V559.5M666.5 559.5V584.5H669.5V559.5M669.5 559.5V581.5H672.5V559.5M672.5 559.5V576.5H674.5V559.5M674.5 559.5V568.5H677.5V559.5M677.5 559.5V563.5H679.5V559.5M679.5 559.5V558.5H682.5V559.5M682.5 559.5V554.5H685.5V559.5M685.5 559.5V550.5H687.5V559.5M687.5 559.5V546.5H690.5V559.5M690.5 559.5V544.5H693.5V559.5M693.5 559.5V546.5H695.5V559.5M695.5 559.5V545.5H698.5V559.5M698.5 559.5V546.5H701.5V559.5M701.5 559.5V545.5H703.5V559.5M703.5 559.5V544.5H706.5V559.5M706.5 559.5V543.5H709.5V559.5M709.5 559.5V544.5H711.5V559.5M711.5 559.5V544.5H714.5V559.5M714.5 559.5V545.5H717.5V559.5M717.5 559.5V549.5H719.5V559.5M719.5 559.5V552.5H722.5V559.5M722.5 559.5V557.5H724.5V559.5M724.5 559.5V562.5H727.5V559.5M727.5 559.5V562.5H730.5V559.5M730.5 559.5V561.5H732.5V559.5M732.5 559.5V558.5H735.5V559.5M735.5 559.5V557.5H738.5V559.5M738.5 559.5V555.5H740.5V559.5M740.5 559.5V553.5H743.5V559.5M743.5 559.5V554.5H746.5V559.5M746.5 559.5V553.5H748.5V559.5M748.5 559.5V557.5H751.5V559.5M751.5 559.5V560.5H754.5V559.5M754.5 559.5V563.5H756.5V559.5M756.5 559.5V567.5H759.5V559.5M759.5 559.5V566.5H761.5V559.5M761.5 559.5V563.5H764.5V559.5M764.5 559.5V561.5H767.5V559.5M767.5 559.5V560.5H769.5V559.5M769.5 559.5V561.5H772.5V559.5M772.5 559.5V562.5H775.5V559.5M775.5 559.5V562.5H777.5V559.5M777.5 559.5V561.5H780.5V559.5M780.5 559.5V560.5H783.5V559.5M783.5 559.5V557.5H785.5V559.5M785.5 559.5V555.5H788.5V559.5M788.5 559.5V554.5H791.5V559.5M791.5 559.5V553.5H793.5V559.5M793.5 559.5V553.5H796.5V559.5M796.5 559.5V553.5H798.5V559.5M798.5 559.5V553.5H801.5V559.5M801.5 559.5V552.5H804.5V559.5M804.5 559.5V551.5H806.5V559.5M806.5 559.5V552.5H809.5V559.5M809.5 559.5V552.5H812.5V559.5M812.5 559.5V550.5H814.5V559.5M814.5 559.5V552.5H817.5V559.5M817.5 559.5V555.5H820.5V559.5M820.5 559.5V555.5H822.5V559.5M822.5 559.5V554.5H825.5V559.5M825.5 559.5V555.5H828.5V559.5M828.5 559.5V569.5H830.5V559.5M830.5 559.5V577.5H833.5V559.5M833.5 559.5V590.5H836.5V559.5M836.5 559.5V611.5H838.5V559.5M838.5 559.5V614.5H841.5V559.5M841.5 559.5V616.5H843.5V559.5M843.5 559.5V603.5H846.5V559.5M846.5 559.5V589.5H849.5V559.5M849.5 559.5V580.5H851.5V559.5M851.5 559.5V574.5H854.5V559.5M854.5 559.5V565.5H857.5V559.5M857.5 559.5V561.5H859.5V559.5M859.5 559.5V555.5H862.5V559.5M862.5 559.5V548.5H865.5V559.5M865.5 559.5V538.5H867.5V559.5M867.5 559.5V539.5H870.5V559.5M870.5 559.5V538.5H873.5V559.5M873.5 559.5V541.5H875.5V559.5M875.5 559.5V540.5H878.5V559.5M878.5 559.5V539.5H880.5V559.5M880.5 559.5V537.5H883.5V559.5M883.5 559.5V538.5H886.5V559.5M886.5 559.5V538.5H888.5V559.5M888.5 559.5V536.5H891.5V559.5M891.5 559.5V536.5H894.5V559.5M894.5 559.5V537.5H896.5V559.5M896.5 559.5V535.5H899.5V559.5M899.5 559.5V539.5H902.5V559.5M902.5 559.5V545.5H904.5V559.5M904.5 559.5V551.5H907.5V559.5M907.5 559.5V556.5H910.5V559.5M910.5 559.5V558.5H912.5V559.5M912.5 559.5V556.5H915.5V559.5M915.5 559.5V555.5H917.5V559.5M917.5 559.5V556.5H920.5V559.5M920.5 559.5V563.5H923.5V559.5M923.5 559.5V561.5H925.5V559.5M925.5 559.5V557.5H928.5V559.5M928.5 559.5V556.5H931.5V559.5M931.5 559.5V554.5H933.5V559.5M933.5 559.5V552.5H936.5V559.5M936.5 559.5V552.5H939.5V559.5M939.5 559.5V552.5H941.5V559.5M941.5 559.5V553.5H944.5V559.5M944.5 559.5V553.5H947.5V559.5M947.5 559.5V552.5H949.5V559.5M949.5 559.5V554.5H952.5V559.5M952.5 559.5V554.5H955.5V559.5M955 559.5H957M957.5 559.5V558.5H960.5V559.5M960.5 559.5V556.5H962.5V559.5M962.5 559.5V557.5H965.5V559.5M965.5 559.5V561.5H968.5V559.5M968.5 559.5V563.5H970.5V559.5M970.5 559.5V562.5H973.5V559.5M973.5 559.5V562.5H976.5V559.5M976.5 559.5V562.5H978.5V559.5M978.5 559.5V560.5H981.5V559.5M981.5 559.5V557.5H984.5V559.5M984.5 559.5V555.5H986.5V559.5M986.5 559.5V554.5H989.5V559.5M989.5 559.5V555.5H992.5V559.5M992.5 559.5V555.5H994.5V559.5M994.5 559.5V557.5H997.5V559.5M997.5 559.5V560.5H999.5V559.5M999.5 559.5V561.5H1002.5V559.5M1002.5 559.5V562.5H1005.5V559.5M1005.5 559.5V562.5H1007.5V559.5M1007.5 559.5V565.5H1010.5V559.5M1010.5 559.5V564.5H1013.5V559.5M1013.5 559.5V562.5H1015.5V559.5M1015.5 559.5V561.5H1018.5V559.5M1018.5 559.5V562.5H1021.5V559.5M1021.5 559.5V561.5H1023.5V559.5M1023.5 559.5V561.5H1026.5V559.5M1026.5 559.5V561.5H1029.5V559.5M1029.5 559.5V560.5H1031.5V559.5M1031.5 559.5V561.5H1034.5V559.5M1034.5 559.5V561.5H1036.5V559.5M1037.5 559.5V560.5H1039.5V559.5M1039.5 559.5V562.5H1042.5V559.5M1042.5 559.5V565.5H1044.5V559.5M1044.5 559.5V566.5H1047.5V559.5M1047.5 559.5V569.5H1050.5V559.5M1050.5 559.5V570.5H1052.5V559.5M1052.5 559.5V569.5H1055.5V559.5M1055.5 559.5V566.5H1058.5V559.5M1058.5 559.5V564.5H1060.5V559.5M1060.5 559.5V560.5H1063.5V559.5M1063.5 559.5V558.5H1066.5V559.5M1066.5 559.5V557.5H1068.5V559.5M1068.5 559.5V560.5H1071.5V559.5M1071.5 559.5V563.5H1074.5V559.5M1074.5 559.5V561.5H1076.5V559.5M1076.5 559.5V563.5H1079.5V559.5M1079.5 559.5V561.5H1081.5V559.5M1081.5 559.5V560.5H1084.5V559.5M1084.5 559.5V561.5H1087.5V559.5M1087.5 559.5V563.5H1089.5V559.5M1089.5 559.5V570.5H1092.5V559.5M1092.5 559.5V574.5H1095.5V559.5M1095.5 559.5V574.5H1097.5V559.5M1097.5 559.5V575.5H1100.5V559.5M1100.5 559.5V577.5H1103.5V559.5M1103.5 559.5V577.5H1105.5V559.5M1105.5 559.5V577.5H1108.5V559.5M1108.5 559.5V580.5H1111.5V559.5M1111.5 559.5V574.5H1113.5V559.5M1113.5 559.5V568.5H1116.5V559.5M1116.5 559.5V564.5H1118.5V559.5M1118.5 559.5V562.5H1121.5V559.5M1121.5 559.5V563.5H1124.5V559.5M1124.5 559.5V567.5H1126.5V559.5M1126.5 559.5V572.5H1129.5V559.5M1129.5 559.5V574.5H1132.5V559.5M1132.5 559.5V578.5H1134.5V559.5M1134.5 559.5V582.5H1137.5V559.5M1137.5 559.5V577.5H1140.5V559.5M1140.5 559.5V574.5H1142.5V559.5M1142.5 559.5V576.5H1145.5V559.5M1145.5 559.5V582.5H1148.5V559.5M1148.5 559.5V579.5H1150.5V559.5M1150.5 559.5V577.5H1153.5V559.5M1153.5 559.5V573.5H1155.5V559.5M1156.5 559.5V570.5H1158.5V559.5M1158.5 559.5V565.5H1161.5V559.5M1161.5 559.5V557.5H1163.5V559.5M1163.5 559.5V551.5H1166.5V559.5M1166.5 559.5V544.5H1169.5V559.5M1169.5 559.5V541.5H1171.5V559.5M1171.5 559.5V544.5H1174.5V559.5M1174.5 559.5V550.5H1177.5V559.5M1177.5 559.5V550.5H1179.5V559.5M1179.5 559.5V555.5H1182.5V559.5M1182.5 559.5V563.5H1185.5V559.5M1185.5 559.5V571.5H1187.5V559.5M1187.5 559.5V573.5H1190.5V559.5M1190.5 559.5V575.5H1193.5V559.5M1193.5 559.5V571.5H1195.5V559.5M1195.5 559.5V563.5H1198.5V559.5M1198.5 559.5V561.5H1200.5V559.5M1200.5 559.5V553.5H1203.5V559.5M1203.5 559.5V549.5H1206.5V559.5M1206.5 559.5V545.5H1208.5V559.5M1208.5 559.5V542.5H1211.5V559.5M1211.5 559.5V544.5H1214.5V559.5M1214.5 559.5V548.5H1216.5V559.5M1216.5 559.5V551.5H1219.5V559.5M1219.5 559.5V553.5H1222.5V559.5M1222.5 559.5V553.5H1224.5V559.5M1224.5 559.5V551.5H1227.5V559.5M1227.5 559.5V550.5H1230.5V559.5M1230.5 559.5V547.5H1232.5V559.5M1232.5 559.5V544.5H1235.5V559.5M1235.5 559.5V545.5H1237.5V559.5M1237.5 559.5V546.5H1240.5V559.5M1240.5 559.5V550.5H1243.5V559.5M1243.5 559.5V551.5H1245.5V559.5M1245.5 559.5V557.5H1248.5V559.5M1248 559.5H1251M1251 559.5H1253M1253.5 559.5V556.5H1256.5V559.5M1256.5 559.5V554.5H1259.5V559.5M1259.5 559.5V552.5H1261.5V559.5M1261.5 559.5V552.5H1264.5V559.5M1264.5 559.5V551.5H1267.5V559.5M1267.5 559.5V552.5H1269.5V559.5M1269.5 559.5V553.5H1272.5V559.5M1272.5 559.5V553.5H1275.5V559.5M1275.5 559.5V553.5H1277.5V559.5M1277.5 559.5V551.5H1280.5V559.5M1280.5 559.5V550.5H1282.5V559.5M1282.5 559.5V548.5H1285.5V559.5M1285.5 559.5V549.5H1288.5V559.5M1288.5 559.5V548.5H1290.5V559.5M1290.5 559.5V549.5H1293.5V559.5M1293.5 559.5V548.5H1296.5V559.5M1296.5 559.5V548.5H1298.5V559.5M1298.5 559.5V548.5H1301.5V559.5M1301.5 559.5V551.5H1304.5V559.5M1304.5 559.5V554.5H1306.5V559.5M1306 559.5H1309M1309.5 559.5V562.5H1312.5V559.5M1312.5 559.5V561.5H1314.5V559.5M1314.5 559.5V562.5H1317.5V559.5M1317.5 559.5V563.5H1319.5V559.5M1319.5 559.5V567.5H1322.5V559.5M1322.5 559.5V571.5H1325.5V559.5M1325.5 559.5V572.5H1327.5V559.5M1327.5 559.5V572.5H1330.5V559.5M1330.5 559.5V574.5H1333.5V559.5M1333.5 559.5V577.5H1335.5V559.5M1335.5 559.5V573.5H1338.5V559.5M1338.5 559.5V568.5H1341.5V559.5M1341.5 559.5V562.5H1343.5V559.5M1343.5 559.5V558.5H1346.5V559.5M1346.5 559.5V554.5H1349.5V559.5M1349.5 559.5V552.5H1351.5V559.5M1351.5 559.5V549.5H1354.5V559.5M1354.5 559.5V547.5H1356.5V559.5M1356.5 559.5V546.5H1359.5V559.5M1359.5 559.5V548.5H1362.5V559.5M1362.5 559.5V549.5H1364.5V559.5M1364.5 559.5V549.5H1367.5V559.5M1367.5 559.5V548.5H1370.5V559.5M1370.5 559.5V548.5H1372.5V559.5M1372.5 559.5V547.5H1375.5V559.5M1375.5 559.5V548.5H1378.5V559.5M1378.5 559.5V548.5H1380.5V559.5M1380.5 559.5V548.5H1383.5V559.5M1383.5 559.5V549.5H1386.5V559.5M1386.5 559.5V551.5H1388.5V559.5M1388.5 559.5V551.5H1391.5V559.5M1391.5 559.5V552.5H1394.5V559.5M1394.5 559.5V554.5H1396.5V559.5M1396.5 559.5V558.5H1399.5V559.5" fill="#96c4b4" stroke="#3d5f55" stroke-width="1" shape-rendering="crispEdges"/>
<polyline points="14.4,523.1 17.0,524.6 19.7,525.9 22.3,527.1 25.0,527.9 27.6,528.6 30.3,529.3 32.9,529.7 35.6,529.6 38.2,529.0 40.8,528.2 43.5,527.2 46.1,526.2 48.8,525.0 51.4,524.0 54.1,523.2 56.7,522.6 59.4,522.9 62.0,523.9 64.6,525.0 67.3,525.6 69.9,525.9 72.6,526.0 75.2,526.3 77.9,526.5 80.5,527.0 83.2,528.0 85.8,530.1 88.4,533.1 91.1,535.6 93.7,536.9 96.4,537.3 99.0,537.1 101.7,536.3 104.3,535.1 107.0,533.7 109.6,533.2 112.2,532.6 114.9,531.7 117.5,531.2 120.2,531.1 122.8,531.7 125.5,532.4 128.1,533.8 130.8,535.0 133.4,535.4 136.0,535.3 138.7,534.9 141.3,534.9 144.0,535.4 146.6,535.5 149.3,536.1 151.9,536.9 154.6,537.4 157.2,538.0 159.8,538.2 162.5,538.3 165.1,538.4 167.8,538.3 170.4,538.2 173.1,538.3 175.7,538.8 178.4,539.6 181.0,540.3 183.6,541.1 186.3,542.3 188.9,543.7 191.6,544.5 194.2,545.6 196.9,546.5 199.5,547.6 202.2,548.7 204.8,551.1 207.4,554.1 210.1,558.2 212.7,562.2 215.4,566.0 218.0,569.9 220.7,573.3 223.3,575.3 226.0,576.2 228.6,575.6 231.2,574.2 233.9,571.9 236.5,570.3 239.2,568.2 241.8,565.9 244.5,563.5 247.1,562.3 249.8,561.9 252.4,561.4 255.0,561.0 257.7,562.2 260.3,564.9 263.0,568.1 265.6,571.0 268.3,574.3 270.9,577.9 273.6,580.6 276.2,582.4 278.8,582.6 281.5,581.5 284.1,579.3 286.8,576.6 289.4,573.2 292.1,569.9 294.7,566.3 297.4,562.6 300.0,559.4 302.7,556.7 305.3,554.7 307.9,553.1 310.6,551.3 313.2,549.5 315.9,547.8 318.5,546.6 321.2,546.3 323.8,545.7 326.5,544.7 329.1,543.1 331.7,541.2 334.4,539.1 337.0,537.1 339.7,535.2 342.3,533.5 345.0,532.3 347.6,531.5 350.3,531.5 352.9,532.1 355.5,532.7 358.2,533.3 360.8,534.1 363.5,535.3 366.1,536.7 368.8,538.3 371.4,540.5 374.1,542.1 376.7,543.0 379.3,543.2 382.0,543.1 384.6,542.1 387.3,540.7 389.9,539.0 392.6,537.7 395.2,536.2 397.9,534.7 400.5,533.5 403.1,532.3 405.8,531.2 408.4,530.0 411.1,528.6 413.7,527.0 416.4,525.2 419.0,523.6 421.7,522.3 424.3,521.6 426.9,521.3 429.6,521.4 432.2,522.1 434.9,523.1 437.5,523.8 440.2,524.3 442.8,524.7 445.5,525.4 448.1,525.7 450.7,525.8 453.4,525.7 456.0,525.8 458.7,525.8 461.3,526.2 464.0,526.7 466.6,527.0 469.3,527.2 471.9,527.3 474.5,527.3 477.2,527.8 479.8,528.8 482.5,530.0 485.1,530.8 487.8,531.7 490.4,532.3 493.1,532.5 495.7,532.6 498.3,532.2 501.0,531.6 503.6,530.7 506.3,529.7 508.9,528.7 511.6,527.9 514.2,527.3 516.9,526.8 519.5,526.0 522.1,525.0 524.8,523.9 527.4,522.6 530.1,521.7 532.7,520.3 535.4,518.4 538.0,516.2 540.7,513.4 543.3,511.5 545.9,511.8 548.6,512.5 551.2,513.4 553.9,515.0 556.5,516.1 559.2,517.3 561.8,520.1 564.5,523.5 567.1,527.3 569.7,530.9 572.4,534.1 575.0,536.9 577.7,539.4 580.3,541.0 583.0,542.2 585.6,543.0 588.3,543.4 590.9,543.2 593.5,542.6 596.2,542.1 598.8,542.1 601.5,542.0 604.1,541.6 606.8,540.9 609.4,540.1 612.1,539.0 614.7,538.0 617.3,536.9 620.0,535.7 622.6,534.2 625.3,533.1 627.9,531.9 630.6,530.7 633.2,529.6 635.9,529.1 638.5,530.1 641.1,532.0 643.8,535.5 646.4,539.2 649.1,542.4 651.7,545.6 654.4,549.6 657.0,552.7 659.7,556.3 662.3,560.4 664.9,566.3 667.6,572.4 670.2,577.8 672.9,581.9 675.5,584.1 678.2,585.1 680.8,584.7 683.5,583.5 686.1,581.0 688.7,577.7 691.4,574.0 694.0,570.7 696.7,567.0 699.3,563.6 702.0,560.1 704.6,556.2 707.3,552.2 709.9,548.3 712.5,544.5 715.2,540.8 717.8,538.1 720.5,536.4 723.1,535.7 725.8,536.5 728.4,537.1 731.1,537.4 733.7,537.1 736.3,536.5 739.0,535.4 741.6,533.8 744.3,532.5 746.9,531.0 749.6,530.4 752.2,530.5 754.9,531.4 757.5,533.3 760.1,534.9 762.8,535.9 765.4,536.3 768.1,536.5 770.7,536.9 773.4,537.4 776.0,538.0 778.7,538.4 781.3,538.5 783.9,538.0 786.6,537.0 789.2,535.6 791.9,534.1 794.5,532.5 797.2,530.9 799.8,529.2 802.5,527.3 805.1,525.2 807.7,523.2 810.4,521.3 813.0,519.0 815.7,517.1 818.3,516.2 821.0,515.1 823.6,513.8 826.3,512.8 828.9,515.2 831.6,519.7 834.2,527.4 836.8,540.4 839.5,554.1 842.1,568.2 844.8,579.1 847.4,586.6 850.1,591.9 852.7,595.4 855.4,596.7 858.0,597.1 860.6,595.9 863.3,593.0 865.9,587.7 868.6,582.6 871.2,577.2 873.9,572.7 876.5,567.9 879.2,562.7 881.8,557.2 884.4,551.8 887.1,546.5 889.7,540.8 892.4,535.0 895.0,529.4 897.7,523.4 900.3,518.3 903.0,514.7 905.6,512.5 908.2,511.6 910.9,511.3 913.5,510.5 916.2,509.5 918.8,508.7 921.5,509.6 924.1,509.9 926.8,509.3 929.4,508.6 932.0,507.2 934.7,505.3 937.3,503.6 940.0,501.8 942.6,500.3 945.3,498.8 947.9,497.0 950.6,495.8 953.2,494.5 955.8,494.4 958.5,494.0 961.1,493.2 963.8,492.6 966.4,492.9 969.1,493.8 971.7,494.4 974.4,495.2 977.0,495.8 979.6,496.0 982.3,495.6 984.9,494.4 987.6,493.1 990.2,492.0 992.9,490.8 995.5,490.3 998.2,490.4 1000.8,490.8 1003.4,491.3 1006.1,492.0 1008.7,493.4 1011.4,494.6 1014.0,495.3 1016.7,495.7 1019.3,496.4 1022.0,496.8 1024.6,497.2 1027.2,497.6 1029.9,497.9 1032.5,498.4 1035.2,498.7 1037.8,499.0 1040.5,499.7 1043.1,501.0 1045.8,502.6 1048.4,505.1 1051.0,507.8 1053.7,510.2 1056.3,512.0 1059.0,513.0 1061.6,513.1 1064.3,512.9 1066.9,512.4 1069.6,512.5 1072.2,513.5 1074.8,514.0 1077.5,514.8 1080.1,515.3 1082.8,515.5 1085.4,516.0 1088.1,516.9 1090.7,519.6 1093.4,523.2 1096.0,526.8 1098.6,530.8 1101.3,535.3 1103.9,539.7 1106.6,544.2 1109.2,549.4 1111.9,553.1 1114.5,555.3 1117.2,556.5 1119.8,557.2 1122.4,558.2 1125.1,560.1 1127.7,563.2 1130.4,567.0 1133.0,571.6 1135.7,577.2 1138.3,581.6 1141.0,585.2 1143.6,589.3 1146.2,595.0 1148.9,599.8 1151.5,604.3 1154.2,607.7 1156.8,610.5 1159.5,612.0 1162.1,611.3 1164.8,609.2 1167.4,605.2 1170.0,600.6 1172.7,596.7 1175.3,594.3 1178.0,592.0 1180.6,591.0 1183.3,591.9 1185.9,594.8 1188.6,598.2 1191.2,602.1 1193.8,605.0 1196.5,605.9 1199.1,606.3 1201.8,604.8 1204.4,602.2 1207.1,598.6 1209.7,594.2 1212.4,590.3 1215.0,587.4 1217.6,585.3 1220.3,583.7 1222.9,582.2 1225.6,580.0 1228.2,577.7 1230.9,574.7 1233.5,570.9 1236.2,567.2 1238.8,563.8 1241.4,561.4 1244.1,559.3 1246.7,558.6 1249.4,558.6 1252.0,558.6 1254.7,557.8 1257.3,556.4 1260.0,554.7 1262.6,552.8 1265.2,550.7 1267.9,548.8 1270.5,547.3 1273.2,545.7 1275.8,544.0 1278.5,542.0 1281.1,539.7 1283.8,536.9 1286.4,534.2 1289.0,531.3 1291.7,528.7 1294.3,525.8 1297.0,523.0 1299.6,520.0 1302.3,517.9 1304.9,516.6 1307.6,516.5 1310.2,517.1 1312.8,517.5 1315.5,518.2 1318.1,519.2 1320.8,521.2 1323.4,524.0 1326.1,527.1 1328.7,530.2 1331.4,533.8 1334.0,538.3 1336.7,541.6 1339.3,543.8 1341.9,544.6 1344.6,544.2 1347.2,543.0 1349.9,541.3 1352.5,538.7 1355.2,535.6 1357.8,532.4 1360.5,529.7 1363.1,527.0 1365.7,524.3 1368.4,521.5 1371.0,518.5 1373.7,515.4 1376.3,512.5 1379.0,509.5 1381.6,506.7 1384.3,504.1 1386.9,502.2 1389.5,500.2 1392.2,498.3 1394.8,497.0 1397.5,496.8" fill="none" stroke="#9a2a4a" stroke-width="1"/>
<polyline points="14.4,526.2 17.0,530.6 19.7,531.0 22.3,531.7 25.0,531.3 27.6,531.5 30.3,532.0 32.9,531.2 35.6,529.3 38.2,526.3 40.8,525.3 43.5,523.2 46.1,522.1 48.8,520.0 51.4,520.1 54.1,519.9 56.7,520.2 59.4,524.5 62.0,527.8 64.6,529.1 67.3,528.4 69.9,527.1 72.6,526.3 75.2,527.5 77.9,527.1 80.5,529.1 83.2,531.9 85.8,538.5 88.4,545.2 91.1,545.4 93.7,542.2 96.4,539.0 99.0,536.3 101.7,532.9 104.3,530.2 107.0,528.1 109.6,531.4 112.2,530.0 114.9,528.2 117.5,529.0 120.2,530.8 122.8,534.2 125.5,535.1 128.1,539.6 130.8,539.6 133.4,537.2 136.0,534.7 138.7,533.5 141.3,534.9 144.0,537.3 146.6,536.1 149.3,538.3 151.9,540.0 154.6,539.3 157.2,540.3 159.8,539.1 162.5,538.9 165.1,538.5 167.8,538.0 170.4,537.7 173.1,538.9 175.7,540.9 178.4,542.6 181.0,543.2 183.6,544.4 186.3,547.0 188.9,549.2 191.6,547.9 194.2,550.0 196.9,550.1 199.5,552.0 202.2,552.8 204.8,560.8 207.4,566.1 210.1,574.5 212.7,578.3 215.4,581.4 218.0,585.3 220.7,586.8 223.3,583.6 226.0,579.6 228.6,573.5 231.2,568.4 233.9,563.0 236.5,563.5 239.2,559.7 241.8,556.7 244.5,554.3 247.1,557.5 249.8,560.4 252.4,559.2 255.0,559.3 257.7,567.1 260.3,575.9 263.0,580.9 265.6,582.5 268.3,587.5 270.9,592.0 273.6,591.8 276.2,589.3 278.8,583.5 281.5,577.2 284.1,570.3 286.8,565.8 289.4,559.7 292.1,556.6 294.7,552.0 297.4,547.9 300.0,546.5 302.7,546.1 305.3,546.5 307.9,546.7 310.6,544.0 313.2,542.1 315.9,541.0 318.5,542.0 321.2,545.0 323.8,543.4 326.5,540.7 329.1,536.8 331.7,533.3 334.4,530.9 337.0,528.8 339.7,527.5 342.3,526.9 345.0,527.7 347.6,528.0 350.3,531.7 352.9,534.3 355.5,535.0 358.2,535.7 360.8,537.4 363.5,540.2 366.1,542.1 368.8,544.8 371.4,549.4 374.1,548.4 376.7,546.7 379.3,543.6 382.0,542.7 384.6,538.2 387.3,534.9 389.9,532.4 392.6,532.2 395.2,530.1 397.9,529.0 400.5,528.7 403.1,527.4 405.8,526.7 408.4,525.4 411.1,522.9 413.7,520.4 416.4,518.1 419.0,517.3 421.7,516.9 424.3,519.0 426.9,520.1 429.6,521.8 432.2,525.1 434.9,526.9 437.5,526.7 440.2,526.2 442.8,526.6 445.5,527.8 448.1,527.2 450.7,525.9 453.4,525.7 456.0,525.8 458.7,526.1 461.3,527.5 464.0,528.8 466.6,528.4 469.3,527.8 471.9,527.6 474.5,527.6 477.2,529.9 479.8,532.8 482.5,534.5 485.1,534.3 487.8,535.3 490.4,534.3 493.1,533.7 495.7,532.7 498.3,530.6 501.0,529.1 503.6,527.2 506.3,525.7 508.9,524.7 511.6,524.6 514.2,525.0 516.9,524.7 519.5,522.7 522.1,521.2 524.8,519.2 527.4,517.8 530.1,517.7 532.7,514.7 535.4,510.8 538.0,507.3 540.7,502.1 543.3,504.2 545.9,513.2 548.6,515.4 551.2,516.9 553.9,521.2 556.5,520.6 559.2,522.1 561.8,531.5 564.5,536.7 567.1,542.8 569.7,545.3 572.4,546.7 575.0,548.0 577.7,549.4 580.3,547.6 583.0,546.9 585.6,546.2 588.3,545.1 590.9,542.4 593.5,540.3 596.2,540.2 598.8,542.0 601.5,541.7 604.1,539.7 606.8,538.3 609.4,536.7 612.1,534.7 614.7,533.8 617.3,532.6 620.0,530.8 622.6,528.5 625.3,528.5 627.9,527.3 630.6,525.6 633.2,525.5 635.9,527.0 638.5,534.0 641.1,539.7 643.8,549.3 646.4,554.1 649.1,555.3 651.7,558.3 654.4,565.5 657.0,565.2 659.7,570.8 662.3,576.7 664.9,589.9 667.6,596.8 670.2,599.6 672.9,598.2 675.5,593.0 678.2,588.9 680.8,583.2 683.5,578.5 686.1,571.3 688.7,564.7 691.4,558.9 694.0,557.4 696.7,552.5 699.3,549.7 702.0,546.1 704.6,540.7 707.3,536.1 709.9,532.8 712.5,529.0 715.2,526.2 717.8,527.3 720.5,529.5 723.1,533.1 725.8,539.6 728.4,539.4 731.1,538.8 733.7,535.8 736.3,534.1 739.0,530.9 741.6,527.6 744.3,527.2 746.9,525.0 749.6,527.9 752.2,531.1 754.9,535.2 757.5,540.6 760.1,541.5 762.8,540.1 765.4,537.9 768.1,537.2 770.7,538.2 773.4,539.7 776.0,540.3 778.7,540.2 781.3,538.8 783.9,536.1 786.6,533.1 789.2,529.9 791.9,528.2 794.5,525.9 797.2,524.4 799.8,522.6 802.5,519.5 805.1,516.8 807.7,515.4 810.4,513.6 813.0,510.1 815.7,509.4 818.3,512.3 821.0,511.0 823.6,508.5 826.3,508.8 828.9,525.0 831.6,537.4 834.2,558.2 836.8,592.3 839.5,609.2 842.1,624.7 844.8,622.7 847.4,616.6 850.1,612.9 852.7,609.6 855.4,602.0 858.0,598.6 860.6,591.3 863.3,581.3 865.9,566.6 868.6,561.8 871.2,555.6 873.9,554.6 876.5,548.7 879.2,541.9 881.8,535.1 884.4,530.5 887.1,525.0 889.7,517.9 892.4,512.0 895.0,507.1 897.7,499.5 900.3,497.6 903.0,500.2 905.6,503.9 908.2,508.2 910.9,510.2 913.5,507.3 916.2,505.4 918.8,505.4 921.5,513.4 924.1,511.1 926.8,507.0 929.4,505.5 932.0,501.9 934.7,497.7 937.3,496.5 940.0,494.6 942.6,494.2 945.3,492.8 947.9,490.0 950.6,490.8 953.2,489.6 955.8,494.0 958.5,492.2 961.1,490.0 963.8,490.1 966.4,494.3 969.1,497.2 971.7,496.8 974.4,498.3 977.0,498.1 979.6,497.2 982.3,493.6 984.9,489.9 987.6,488.0 990.2,487.4 992.9,486.2 995.5,488.0 998.2,490.8 1000.8,492.3 1003.4,493.5 1006.1,494.7 1008.7,498.9 1011.4,499.3 1014.0,498.2 1016.7,497.5 1019.3,499.0 1022.0,498.3 1024.6,499.1 1027.2,499.1 1029.9,499.0 1032.5,500.3 1035.2,500.1 1037.8,499.9 1040.5,502.7 1043.1,506.3 1045.8,509.1 1048.4,514.7 1051.0,518.6 1053.7,519.8 1056.3,519.1 1059.0,517.2 1061.6,513.6 1064.3,511.8 1066.9,510.5 1069.6,513.1 1072.2,517.2 1074.8,516.0 1077.5,518.1 1080.1,517.3 1082.8,516.1 1085.4,518.1 1088.1,520.6 1090.7,530.4 1093.4,537.4 1096.0,541.2 1098.6,546.8 1101.3,553.3 1103.9,557.4 1106.6,562.3 1109.2,569.8 1111.9,568.0 1114.5,564.2 1117.2,561.0 1119.8,560.3 1122.4,562.4 1125.1,567.5 1127.7,575.6 1130.4,582.1 1133.0,590.0 1135.7,599.7 1138.3,599.0 1141.0,599.6 1143.6,606.0 1146.2,617.8 1148.9,619.0 1151.5,622.1 1154.2,621.6 1156.8,621.6 1159.5,617.8 1162.1,608.7 1164.8,600.5 1167.4,589.4 1170.0,582.0 1172.7,581.3 1175.3,584.7 1178.0,582.6 1180.6,586.9 1183.3,595.8 1185.9,606.0 1188.6,611.9 1191.2,617.9 1193.8,616.4 1196.5,609.5 1199.1,607.9 1201.8,598.7 1204.4,591.9 1207.1,584.3 1209.7,576.5 1212.4,574.7 1215.0,575.9 1217.6,576.8 1220.3,577.5 1222.9,576.1 1225.6,571.3 1228.2,568.3 1230.9,562.6 1233.5,556.0 1236.2,552.4 1238.8,550.0 1241.4,551.8 1244.1,550.8 1246.7,556.1 1249.4,558.5 1252.0,558.7 1254.7,554.3 1257.3,551.1 1260.0,547.6 1262.6,545.2 1265.2,542.4 1267.9,541.4 1270.5,541.2 1273.2,539.1 1275.8,537.3 1278.5,533.8 1281.1,530.8 1283.8,525.4 1286.4,523.6 1289.0,519.4 1291.7,518.2 1294.3,514.6 1297.0,511.5 1299.6,508.2 1302.3,509.4 1304.9,511.3 1307.6,516.1 1310.2,519.3 1312.8,519.1 1315.5,521.1 1318.1,523.3 1320.8,529.3 1323.4,535.2 1326.1,539.6 1328.7,542.6 1331.4,548.3 1334.0,556.0 1336.7,555.0 1339.3,552.5 1341.9,547.7 1344.6,542.7 1347.2,538.1 1349.9,534.4 1352.5,528.5 1355.2,523.4 1357.8,519.3 1360.5,518.8 1363.1,516.4 1365.7,513.5 1368.4,510.4 1371.0,506.7 1373.7,502.7 1376.3,500.8 1379.0,497.9 1381.6,495.1 1384.3,494.1 1386.9,494.3 1389.5,492.2 1392.2,490.9 1394.8,492.0 1397.5,495.7" fill="none" stroke="#000" stroke-width="2"/></g>
<line x1="16" y1="680.5" x2="1456" y2="680.5" stroke="#77797f"/>
<line x1="16" y1="735.5" x2="1456" y2="735.5" stroke="#77797f"/>
<line x1="16" y1="707.5" x2="1456" y2="707.5" stroke="#8a8c92" stroke-dasharray="8,3,2,3"/>
<line x1="16" y1="721.5" x2="1456" y2="721.5" stroke="#4a9a3a" stroke-dasharray="4,3"/>
<clipPath id="cr"><rect x="16" y="631" width="1440" height="152"/></clipPath>
<clipPath id="cr70"><rect x="16" y="631" width="1440" height="48.8"/></clipPath>
<g clip-path="url(#cr)"><g clip-path="url(#cr70)"><polygon points="14.4,679.8 14.4,688.6 17.0,704.4 19.7,693.9 22.3,694.2 25.0,690.6 27.6,691.6 30.3,691.6 32.9,686.9 35.6,682.4 38.2,678.1 40.8,683.0 43.5,678.7 46.1,679.4 48.8,675.6 51.4,682.3 54.1,680.5 56.7,680.5 59.4,699.7 62.0,698.2 64.6,692.7 67.3,686.1 69.9,683.4 72.6,682.7 75.2,690.7 77.9,685.8 80.5,695.1 83.2,699.6 85.8,714.7 88.4,718.7 91.1,701.5 93.7,692.8 96.4,690.8 99.0,689.8 101.7,686.2 104.3,685.6 107.0,684.6 109.6,702.7 112.2,692.1 114.9,689.7 117.5,696.2 120.2,698.9 122.8,704.1 125.5,698.7 128.1,709.1 130.8,699.6 133.4,694.1 136.0,692.4 138.7,693.6 141.3,700.2 144.0,703.6 146.6,695.2 149.3,703.8 151.9,703.0 154.6,697.5 157.2,701.5 159.8,696.1 162.5,697.9 165.1,696.7 167.8,695.7 170.4,695.0 173.1,699.7 175.7,703.2 178.4,702.8 181.0,699.5 183.6,701.7 186.3,708.2 188.9,708.2 191.6,696.5 194.2,708.1 196.9,702.7 199.5,708.8 202.2,705.7 204.8,726.0 207.4,722.4 210.1,730.5 212.7,722.4 215.4,722.7 218.0,726.2 220.7,721.9 223.3,710.0 226.0,706.9 228.6,700.3 231.2,699.7 233.9,696.7 236.5,710.1 239.2,700.4 241.8,700.2 244.5,700.1 247.1,712.9 249.8,713.9 252.4,705.0 255.0,707.6 257.7,723.2 260.3,727.3 263.0,722.8 265.6,717.5 268.3,723.9 270.9,725.4 273.6,716.9 276.2,712.4 278.8,705.4 281.5,702.6 284.1,699.1 286.8,701.4 289.4,696.6 292.1,700.7 294.7,696.5 297.4,695.1 300.0,699.9 302.7,701.3 305.3,703.2 307.9,702.3 310.6,694.9 313.2,694.9 315.9,695.6 318.5,701.3 321.2,708.4 323.8,696.9 326.5,693.0 329.1,688.6 331.7,686.9 334.4,687.4 337.0,686.0 339.7,685.9 342.3,685.9 345.0,690.5 347.6,688.5 350.3,703.0 352.9,700.7 355.5,695.4 358.2,694.8 360.8,699.1 363.5,704.6 366.1,702.6 368.8,706.8 371.4,716.7 374.1,698.9 376.7,695.7 379.3,690.5 382.0,695.8 384.6,685.8 387.3,686.1 389.9,685.4 392.6,691.8 395.2,686.1 397.9,686.6 400.5,687.8 403.1,684.0 405.8,683.6 408.4,680.7 411.1,675.8 413.7,673.8 416.4,671.9 419.0,675.6 421.7,674.9 424.3,687.1 426.9,683.8 429.6,686.6 432.2,695.1 434.9,691.0 437.5,684.6 440.2,682.2 442.8,685.0 445.5,688.1 448.1,682.0 450.7,678.4 453.4,681.0 456.0,680.8 458.7,679.9 461.3,686.1 464.0,685.7 466.6,678.9 469.3,676.7 471.9,676.7 474.5,675.7 477.2,691.6 479.8,697.2 482.5,692.8 485.1,685.3 487.8,691.3 490.4,683.5 493.1,683.1 495.7,680.1 498.3,675.3 501.0,674.7 503.6,671.5 506.3,670.6 508.9,669.7 511.6,672.6 514.2,674.1 516.9,670.3 519.5,664.9 522.1,663.8 524.8,661.2 527.4,660.4 530.1,665.6 532.7,658.8 535.4,655.9 538.0,654.5 540.7,651.6 543.3,683.8 545.9,708.1 548.6,695.4 551.2,693.9 553.9,701.6 556.5,692.4 559.2,696.9 561.8,714.1 564.5,708.8 567.1,712.2 569.7,707.0 572.4,705.6 575.0,705.6 577.7,706.4 580.3,699.4 583.0,701.3 585.6,700.4 588.3,698.8 590.9,694.0 593.5,693.9 596.2,698.0 598.8,703.8 601.5,698.4 604.1,693.6 606.8,693.4 609.4,691.4 612.1,688.9 614.7,690.4 617.3,688.2 620.0,685.1 622.6,682.0 625.3,689.0 627.9,684.9 630.6,682.0 633.2,685.9 635.9,692.4 638.5,713.1 641.1,713.0 643.8,726.1 646.4,716.0 649.1,708.1 651.7,713.4 654.4,723.6 657.0,708.5 659.7,719.4 662.3,721.8 664.9,733.0 667.6,725.7 670.2,721.2 672.9,715.2 675.5,708.8 678.2,709.3 680.8,705.6 683.5,705.6 686.1,699.7 688.7,698.3 691.4,697.3 694.0,704.1 696.7,697.1 699.3,699.6 702.0,696.5 704.6,691.6 707.3,690.5 709.9,690.8 712.5,687.8 715.2,687.3 717.8,697.0 720.5,699.9 723.1,704.5 725.8,713.3 728.4,700.0 731.1,698.6 733.7,692.9 736.3,694.0 739.0,689.7 741.6,687.7 744.3,693.2 746.9,688.7 749.6,701.3 752.2,702.9 754.9,706.5 757.5,711.3 760.1,702.4 762.8,697.1 765.4,694.5 768.1,696.6 770.7,700.6 773.4,702.0 776.0,699.9 778.7,697.9 781.3,693.6 783.9,689.0 786.6,686.4 789.2,683.8 791.9,685.7 794.5,682.6 797.2,682.1 799.8,679.8 802.5,675.1 805.1,673.5 807.7,674.7 810.4,672.1 813.0,667.2 815.7,675.7 818.3,689.9 821.0,680.4 823.6,676.6 826.3,683.9 828.9,722.8 831.6,721.0 834.2,734.6 836.8,746.8 839.5,730.1 842.1,731.7 844.8,714.9 847.4,710.9 850.1,712.5 852.7,712.8 855.4,707.7 858.0,710.9 860.6,706.2 863.3,701.8 865.9,695.2 868.6,703.6 871.2,701.0 873.9,705.7 876.5,700.1 879.2,697.6 881.8,695.9 884.4,696.4 887.1,693.8 889.7,690.2 892.4,689.2 895.0,688.0 897.7,683.1 900.3,689.9 903.0,696.5 905.6,698.1 908.2,699.7 910.9,696.6 913.5,689.5 916.2,689.1 918.8,690.9 921.5,706.6 924.1,693.3 926.8,689.9 929.4,691.9 932.0,688.2 934.7,685.5 937.3,688.5 940.0,686.3 942.6,686.8 945.3,684.2 947.9,680.9 950.6,686.6 953.2,683.0 955.8,694.6 958.5,685.9 961.1,683.9 963.8,686.3 966.4,694.5 969.1,692.7 971.7,687.5 974.4,690.1 977.0,686.9 979.6,684.6 982.3,679.6 984.9,677.3 987.6,677.8 990.2,677.8 992.9,675.3 995.5,682.4 998.2,684.5 1000.8,681.7 1003.4,680.2 1006.1,679.3 1008.7,689.7 1011.4,682.5 1014.0,678.7 1016.7,677.8 1019.3,683.2 1022.0,678.5 1024.6,680.7 1027.2,678.3 1029.9,676.6 1032.5,680.3 1035.2,676.4 1037.8,675.0 1040.5,685.7 1043.1,689.1 1045.8,687.4 1048.4,699.6 1051.0,696.6 1053.7,690.2 1056.3,685.1 1059.0,681.4 1061.6,676.4 1064.3,678.3 1066.9,677.5 1069.6,690.8 1072.2,697.1 1074.8,685.6 1077.5,694.7 1080.1,688.5 1082.8,686.3 1085.4,694.8 1088.1,696.0 1090.7,715.4 1093.4,712.9 1096.0,708.0 1098.6,713.3 1101.3,717.5 1103.9,714.7 1106.6,718.2 1109.2,725.1 1111.9,706.9 1114.5,702.4 1117.2,702.3 1119.8,706.1 1122.4,712.0 1125.1,718.7 1127.7,725.2 1130.4,725.6 1133.0,730.0 1135.7,734.7 1138.3,716.7 1141.0,718.9 1143.6,727.2 1146.2,734.3 1148.9,720.9 1151.5,723.8 1154.2,719.9 1156.8,721.2 1159.5,715.8 1162.1,707.6 1164.8,706.9 1167.4,700.8 1170.0,703.5 1172.7,711.6 1175.3,717.2 1178.0,710.1 1180.6,717.8 1183.3,724.0 1185.9,727.2 1188.6,724.3 1191.2,726.2 1193.8,717.1 1196.5,710.1 1199.1,715.2 1201.8,705.6 1204.4,706.8 1207.1,704.2 1209.7,702.3 1212.4,708.8 1215.0,712.4 1217.6,712.7 1220.3,712.9 1222.9,709.8 1225.6,704.1 1228.2,705.6 1230.9,700.4 1233.5,697.1 1236.2,700.2 1238.8,700.9 1241.4,708.1 1244.1,703.5 1246.7,714.3 1249.4,710.8 1252.0,707.5 1254.7,699.7 1257.3,700.0 1260.0,698.2 1262.6,698.5 1265.2,696.3 1267.9,699.1 1270.5,700.2 1273.2,695.5 1275.8,694.6 1278.5,689.6 1281.1,688.5 1283.8,682.1 1286.4,688.9 1289.0,683.2 1291.7,688.5 1294.3,682.8 1297.0,681.3 1299.6,679.1 1302.3,690.0 1304.9,691.4 1307.6,700.2 1310.2,697.7 1312.8,690.7 1315.5,696.1 1318.1,696.8 1320.8,708.0 1323.4,710.4 1326.1,708.7 1328.7,707.1 1331.4,715.5 1334.0,722.7 1336.7,703.8 1339.3,700.3 1341.9,694.6 1344.6,692.2 1347.2,690.3 1349.9,689.8 1352.5,683.8 1355.2,682.1 1357.8,681.4 1360.5,689.0 1363.1,684.3 1365.7,681.5 1368.4,679.1 1371.0,676.0 1373.7,673.2 1376.3,675.7 1379.0,672.2 1381.6,670.4 1384.3,672.1 1386.9,673.0 1389.5,668.2 1392.2,667.4 1394.8,674.3 1397.5,684.5 1397.5,679.8" fill="#7aa898" stroke="none"/></g>
<polyline points="14.4,688.6 17.0,704.4 19.7,693.9 22.3,694.2 25.0,690.6 27.6,691.6 30.3,691.6 32.9,686.9 35.6,682.4 38.2,678.1 40.8,683.0 43.5,678.7 46.1,679.4 48.8,675.6 51.4,682.3 54.1,680.5 56.7,680.5 59.4,699.7 62.0,698.2 64.6,692.7 67.3,686.1 69.9,683.4 72.6,682.7 75.2,690.7 77.9,685.8 80.5,695.1 83.2,699.6 85.8,714.7 88.4,718.7 91.1,701.5 93.7,692.8 96.4,690.8 99.0,689.8 101.7,686.2 104.3,685.6 107.0,684.6 109.6,702.7 112.2,692.1 114.9,689.7 117.5,696.2 120.2,698.9 122.8,704.1 125.5,698.7 128.1,709.1 130.8,699.6 133.4,694.1 136.0,692.4 138.7,693.6 141.3,700.2 144.0,703.6 146.6,695.2 149.3,703.8 151.9,703.0 154.6,697.5 157.2,701.5 159.8,696.1 162.5,697.9 165.1,696.7 167.8,695.7 170.4,695.0 173.1,699.7 175.7,703.2 178.4,702.8 181.0,699.5 183.6,701.7 186.3,708.2 188.9,708.2 191.6,696.5 194.2,708.1 196.9,702.7 199.5,708.8 202.2,705.7 204.8,726.0 207.4,722.4 210.1,730.5 212.7,722.4 215.4,722.7 218.0,726.2 220.7,721.9 223.3,710.0 226.0,706.9 228.6,700.3 231.2,699.7 233.9,696.7 236.5,710.1 239.2,700.4 241.8,700.2 244.5,700.1 247.1,712.9 249.8,713.9 252.4,705.0 255.0,707.6 257.7,723.2 260.3,727.3 263.0,722.8 265.6,717.5 268.3,723.9 270.9,725.4 273.6,716.9 276.2,712.4 278.8,705.4 281.5,702.6 284.1,699.1 286.8,701.4 289.4,696.6 292.1,700.7 294.7,696.5 297.4,695.1 300.0,699.9 302.7,701.3 305.3,703.2 307.9,702.3 310.6,694.9 313.2,694.9 315.9,695.6 318.5,701.3 321.2,708.4 323.8,696.9 326.5,693.0 329.1,688.6 331.7,686.9 334.4,687.4 337.0,686.0 339.7,685.9 342.3,685.9 345.0,690.5 347.6,688.5 350.3,703.0 352.9,700.7 355.5,695.4 358.2,694.8 360.8,699.1 363.5,704.6 366.1,702.6 368.8,706.8 371.4,716.7 374.1,698.9 376.7,695.7 379.3,690.5 382.0,695.8 384.6,685.8 387.3,686.1 389.9,685.4 392.6,691.8 395.2,686.1 397.9,686.6 400.5,687.8 403.1,684.0 405.8,683.6 408.4,680.7 411.1,675.8 413.7,673.8 416.4,671.9 419.0,675.6 421.7,674.9 424.3,687.1 426.9,683.8 429.6,686.6 432.2,695.1 434.9,691.0 437.5,684.6 440.2,682.2 442.8,685.0 445.5,688.1 448.1,682.0 450.7,678.4 453.4,681.0 456.0,680.8 458.7,679.9 461.3,686.1 464.0,685.7 466.6,678.9 469.3,676.7 471.9,676.7 474.5,675.7 477.2,691.6 479.8,697.2 482.5,692.8 485.1,685.3 487.8,691.3 490.4,683.5 493.1,683.1 495.7,680.1 498.3,675.3 501.0,674.7 503.6,671.5 506.3,670.6 508.9,669.7 511.6,672.6 514.2,674.1 516.9,670.3 519.5,664.9 522.1,663.8 524.8,661.2 527.4,660.4 530.1,665.6 532.7,658.8 535.4,655.9 538.0,654.5 540.7,651.6 543.3,683.8 545.9,708.1 548.6,695.4 551.2,693.9 553.9,701.6 556.5,692.4 559.2,696.9 561.8,714.1 564.5,708.8 567.1,712.2 569.7,707.0 572.4,705.6 575.0,705.6 577.7,706.4 580.3,699.4 583.0,701.3 585.6,700.4 588.3,698.8 590.9,694.0 593.5,693.9 596.2,698.0 598.8,703.8 601.5,698.4 604.1,693.6 606.8,693.4 609.4,691.4 612.1,688.9 614.7,690.4 617.3,688.2 620.0,685.1 622.6,682.0 625.3,689.0 627.9,684.9 630.6,682.0 633.2,685.9 635.9,692.4 638.5,713.1 641.1,713.0 643.8,726.1 646.4,716.0 649.1,708.1 651.7,713.4 654.4,723.6 657.0,708.5 659.7,719.4 662.3,721.8 664.9,733.0 667.6,725.7 670.2,721.2 672.9,715.2 675.5,708.8 678.2,709.3 680.8,705.6 683.5,705.6 686.1,699.7 688.7,698.3 691.4,697.3 694.0,704.1 696.7,697.1 699.3,699.6 702.0,696.5 704.6,691.6 707.3,690.5 709.9,690.8 712.5,687.8 715.2,687.3 717.8,697.0 720.5,699.9 723.1,704.5 725.8,713.3 728.4,700.0 731.1,698.6 733.7,692.9 736.3,694.0 739.0,689.7 741.6,687.7 744.3,693.2 746.9,688.7 749.6,701.3 752.2,702.9 754.9,706.5 757.5,711.3 760.1,702.4 762.8,697.1 765.4,694.5 768.1,696.6 770.7,700.6 773.4,702.0 776.0,699.9 778.7,697.9 781.3,693.6 783.9,689.0 786.6,686.4 789.2,683.8 791.9,685.7 794.5,682.6 797.2,682.1 799.8,679.8 802.5,675.1 805.1,673.5 807.7,674.7 810.4,672.1 813.0,667.2 815.7,675.7 818.3,689.9 821.0,680.4 823.6,676.6 826.3,683.9 828.9,722.8 831.6,721.0 834.2,734.6 836.8,746.8 839.5,730.1 842.1,731.7 844.8,714.9 847.4,710.9 850.1,712.5 852.7,712.8 855.4,707.7 858.0,710.9 860.6,706.2 863.3,701.8 865.9,695.2 868.6,703.6 871.2,701.0 873.9,705.7 876.5,700.1 879.2,697.6 881.8,695.9 884.4,696.4 887.1,693.8 889.7,690.2 892.4,689.2 895.0,688.0 897.7,683.1 900.3,689.9 903.0,696.5 905.6,698.1 908.2,699.7 910.9,696.6 913.5,689.5 916.2,689.1 918.8,690.9 921.5,706.6 924.1,693.3 926.8,689.9 929.4,691.9 932.0,688.2 934.7,685.5 937.3,688.5 940.0,686.3 942.6,686.8 945.3,684.2 947.9,680.9 950.6,686.6 953.2,683.0 955.8,694.6 958.5,685.9 961.1,683.9 963.8,686.3 966.4,694.5 969.1,692.7 971.7,687.5 974.4,690.1 977.0,686.9 979.6,684.6 982.3,679.6 984.9,677.3 987.6,677.8 990.2,677.8 992.9,675.3 995.5,682.4 998.2,684.5 1000.8,681.7 1003.4,680.2 1006.1,679.3 1008.7,689.7 1011.4,682.5 1014.0,678.7 1016.7,677.8 1019.3,683.2 1022.0,678.5 1024.6,680.7 1027.2,678.3 1029.9,676.6 1032.5,680.3 1035.2,676.4 1037.8,675.0 1040.5,685.7 1043.1,689.1 1045.8,687.4 1048.4,699.6 1051.0,696.6 1053.7,690.2 1056.3,685.1 1059.0,681.4 1061.6,676.4 1064.3,678.3 1066.9,677.5 1069.6,690.8 1072.2,697.1 1074.8,685.6 1077.5,694.7 1080.1,688.5 1082.8,686.3 1085.4,694.8 1088.1,696.0 1090.7,715.4 1093.4,712.9 1096.0,708.0 1098.6,713.3 1101.3,717.5 1103.9,714.7 1106.6,718.2 1109.2,725.1 1111.9,706.9 1114.5,702.4 1117.2,702.3 1119.8,706.1 1122.4,712.0 1125.1,718.7 1127.7,725.2 1130.4,725.6 1133.0,730.0 1135.7,734.7 1138.3,716.7 1141.0,718.9 1143.6,727.2 1146.2,734.3 1148.9,720.9 1151.5,723.8 1154.2,719.9 1156.8,721.2 1159.5,715.8 1162.1,707.6 1164.8,706.9 1167.4,700.8 1170.0,703.5 1172.7,711.6 1175.3,717.2 1178.0,710.1 1180.6,717.8 1183.3,724.0 1185.9,727.2 1188.6,724.3 1191.2,726.2 1193.8,717.1 1196.5,710.1 1199.1,715.2 1201.8,705.6 1204.4,706.8 1207.1,704.2 1209.7,702.3 1212.4,708.8 1215.0,712.4 1217.6,712.7 1220.3,712.9 1222.9,709.8 1225.6,704.1 1228.2,705.6 1230.9,700.4 1233.5,697.1 1236.2,700.2 1238.8,700.9 1241.4,708.1 1244.1,703.5 1246.7,714.3 1249.4,710.8 1252.0,707.5 1254.7,699.7 1257.3,700.0 1260.0,698.2 1262.6,698.5 1265.2,696.3 1267.9,699.1 1270.5,700.2 1273.2,695.5 1275.8,694.6 1278.5,689.6 1281.1,688.5 1283.8,682.1 1286.4,688.9 1289.0,683.2 1291.7,688.5 1294.3,682.8 1297.0,681.3 1299.6,679.1 1302.3,690.0 1304.9,691.4 1307.6,700.2 1310.2,697.7 1312.8,690.7 1315.5,696.1 1318.1,696.8 1320.8,708.0 1323.4,710.4 1326.1,708.7 1328.7,707.1 1331.4,715.5 1334.0,722.7 1336.7,703.8 1339.3,700.3 1341.9,694.6 1344.6,692.2 1347.2,690.3 1349.9,689.8 1352.5,683.8 1355.2,682.1 1357.8,681.4 1360.5,689.0 1363.1,684.3 1365.7,681.5 1368.4,679.1 1371.0,676.0 1373.7,673.2 1376.3,675.7 1379.0,672.2 1381.6,670.4 1384.3,672.1 1386.9,673.0 1389.5,668.2 1392.2,667.4 1394.8,674.3 1397.5,684.5" fill="none" stroke="#6670a0" stroke-width="1.1"/></g>
<rect x="16.5" y="30.5" width="1440" height="435" fill="none" stroke="#62656f"/>
<rect x="16.5" y="479.5" width="1440" height="152" fill="none" stroke="#62656f"/>
<rect x="16.5" y="631.5" width="1440" height="152" fill="none" stroke="#62656f"/>
<line x1="17.5" y1="465" x2="17.5" y2="468" stroke="#777a84"/>
<line x1="17.5" y1="783" x2="17.5" y2="786" stroke="#777a84"/>
<line x1="51.5" y1="465" x2="51.5" y2="468" stroke="#777a84"/>
<line x1="51.5" y1="783" x2="51.5" y2="786" stroke="#777a84"/>
<line x1="86.5" y1="465" x2="86.5" y2="468" stroke="#777a84"/>
<line x1="86.5" y1="783" x2="86.5" y2="786" stroke="#777a84"/>
<line x1="120.5" y1="465" x2="120.5" y2="468" stroke="#777a84"/>
<line x1="120.5" y1="783" x2="120.5" y2="786" stroke="#777a84"/>
<line x1="155.5" y1="465" x2="155.5" y2="468" stroke="#777a84"/>
<line x1="155.5" y1="783" x2="155.5" y2="786" stroke="#777a84"/>
<line x1="189.5" y1="465" x2="189.5" y2="468" stroke="#777a84"/>
<line x1="189.5" y1="783" x2="189.5" y2="786" stroke="#777a84"/>
<line x1="223.5" y1="465" x2="223.5" y2="468" stroke="#777a84"/>
<line x1="223.5" y1="783" x2="223.5" y2="786" stroke="#777a84"/>
<line x1="258.5" y1="465" x2="258.5" y2="468" stroke="#777a84"/>
<line x1="258.5" y1="783" x2="258.5" y2="786" stroke="#777a84"/>
<line x1="292.5" y1="465" x2="292.5" y2="468" stroke="#777a84"/>
<line x1="292.5" y1="783" x2="292.5" y2="786" stroke="#777a84"/>
<line x1="326.5" y1="465" x2="326.5" y2="468" stroke="#777a84"/>
<line x1="326.5" y1="783" x2="326.5" y2="786" stroke="#777a84"/>
<line x1="361.5" y1="465" x2="361.5" y2="468" stroke="#777a84"/>
<line x1="361.5" y1="783" x2="361.5" y2="786" stroke="#777a84"/>
<line x1="395.5" y1="465" x2="395.5" y2="468" stroke="#777a84"/>
<line x1="395.5" y1="783" x2="395.5" y2="786" stroke="#777a84"/>
<line x1="430.5" y1="465" x2="430.5" y2="468" stroke="#777a84"/>
<line x1="430.5" y1="783" x2="430.5" y2="786" stroke="#777a84"/>
<line x1="464.5" y1="465" x2="464.5" y2="468" stroke="#777a84"/>
<line x1="464.5" y1="783" x2="464.5" y2="786" stroke="#777a84"/>
<line x1="498.5" y1="465" x2="498.5" y2="468" stroke="#777a84"/>
<line x1="498.5" y1="783" x2="498.5" y2="786" stroke="#777a84"/>
<line x1="533.5" y1="465" x2="533.5" y2="468" stroke="#777a84"/>
<line x1="533.5" y1="783" x2="533.5" y2="786" stroke="#777a84"/>
<line x1="567.5" y1="465" x2="567.5" y2="468" stroke="#777a84"/>
<line x1="567.5" y1="783" x2="567.5" y2="786" stroke="#777a84"/>
<line x1="601.5" y1="465" x2="601.5" y2="468" stroke="#777a84"/>
<line x1="601.5" y1="783" x2="601.5" y2="786" stroke="#777a84"/>
<line x1="636.5" y1="465" x2="636.5" y2="468" stroke="#777a84"/>
<line x1="636.5" y1="783" x2="636.5" y2="786" stroke="#777a84"/>
<line x1="673.5" y1="465" x2="673.5" y2="468" stroke="#777a84"/>
<line x1="673.5" y1="783" x2="673.5" y2="786" stroke="#777a84"/>
<line x1="705.5" y1="465" x2="705.5" y2="468" stroke="#777a84"/>
<line x1="705.5" y1="783" x2="705.5" y2="786" stroke="#777a84"/>
<line x1="739.5" y1="465" x2="739.5" y2="468" stroke="#777a84"/>
<line x1="739.5" y1="783" x2="739.5" y2="786" stroke="#777a84"/>
<line x1="776.5" y1="465" x2="776.5" y2="468" stroke="#777a84"/>
<line x1="776.5" y1="783" x2="776.5" y2="786" stroke="#777a84"/>
<line x1="810.5" y1="465" x2="810.5" y2="468" stroke="#777a84"/>
<line x1="810.5" y1="783" x2="810.5" y2="786" stroke="#777a84"/>
<line x1="845.5" y1="465" x2="845.5" y2="468" stroke="#777a84"/>
<line x1="845.5" y1="783" x2="845.5" y2="786" stroke="#777a84"/>
<line x1="879.5" y1="465" x2="879.5" y2="468" stroke="#777a84"/>
<line x1="879.5" y1="783" x2="879.5" y2="786" stroke="#777a84"/>
<line x1="914.5" y1="465" x2="914.5" y2="468" stroke="#777a84"/>
<line x1="914.5" y1="783" x2="914.5" y2="786" stroke="#777a84"/>
<line x1="948.5" y1="465" x2="948.5" y2="468" stroke="#777a84"/>
<line x1="948.5" y1="783" x2="948.5" y2="786" stroke="#777a84"/>
<line x1="982.5" y1="465" x2="982.5" y2="468" stroke="#777a84"/>
<line x1="982.5" y1="783" x2="982.5" y2="786" stroke="#777a84"/>
<line x1="1017.5" y1="465" x2="1017.5" y2="468" stroke="#777a84"/>
<line x1="1017.5" y1="783" x2="1017.5" y2="786" stroke="#777a84"/>
<line x1="1051.5" y1="465" x2="1051.5" y2="468" stroke="#777a84"/>
<line x1="1051.5" y1="783" x2="1051.5" y2="786" stroke="#777a84"/>
<line x1="1085.5" y1="465" x2="1085.5" y2="468" stroke="#777a84"/>
<line x1="1085.5" y1="783" x2="1085.5" y2="786" stroke="#777a84"/>
<line x1="1120.5" y1="465" x2="1120.5" y2="468" stroke="#777a84"/>
<line x1="1120.5" y1="783" x2="1120.5" y2="786" stroke="#777a84"/>
<line x1="1154.5" y1="465" x2="1154.5" y2="468" stroke="#777a84"/>
<line x1="1154.5" y1="783" x2="1154.5" y2="786" stroke="#777a84"/>
<line x1="1189.5" y1="465" x2="1189.5" y2="468" stroke="#777a84"/>
<line x1="1189.5" y1="783" x2="1189.5" y2="786" stroke="#777a84"/>
<line x1="1223.5" y1="465" x2="1223.5" y2="468" stroke="#777a84"/>
<line x1="1223.5" y1="783" x2="1223.5" y2="786" stroke="#777a84"/>
<line x1="1257.5" y1="465" x2="1257.5" y2="468" stroke="#777a84"/>
<line x1="1257.5" y1="783" x2="1257.5" y2="786" stroke="#777a84"/>
<line x1="1292.5" y1="465" x2="1292.5" y2="468" stroke="#777a84"/>
<line x1="1292.5" y1="783" x2="1292.5" y2="786" stroke="#777a84"/>
<line x1="1326.5" y1="465" x2="1326.5" y2="468" stroke="#777a84"/>
<line x1="1326.5" y1="783" x2="1326.5" y2="786" stroke="#777a84"/>
<line x1="1360.5" y1="465" x2="1360.5" y2="468" stroke="#777a84"/>
<line x1="1360.5" y1="783" x2="1360.5" y2="786" stroke="#777a84"/>
<line x1="1395.5" y1="465" x2="1395.5" y2="468" stroke="#777a84"/>
<line x1="1395.5" y1="783" x2="1395.5" y2="786" stroke="#777a84"/>
<line x1="16.5" y1="465" x2="16.5" y2="468" stroke="#777a84"/>
<line x1="1429.5" y1="465" x2="1429.5" y2="468" stroke="#777a84"/>
<line x1="16.5" y1="783" x2="16.5" y2="786" stroke="#777a84"/>
<line x1="1429.5" y1="783" x2="1429.5" y2="786" stroke="#777a84"/>
<line x1="1457" y1="469.5" x2="1458" y2="469.5" stroke="#666"/>
<line x1="1457" y1="452.5" x2="1458" y2="452.5" stroke="#666"/>
<line x1="1457" y1="443.5" x2="1458" y2="443.5" stroke="#666"/>
<line x1="1457" y1="435.5" x2="1458" y2="435.5" stroke="#666"/>
<line x1="1457" y1="427.5" x2="1458" y2="427.5" stroke="#666"/>
<line x1="1457" y1="411.5" x2="1458" y2="411.5" stroke="#666"/>
<line x1="1457" y1="403.5" x2="1458" y2="403.5" stroke="#666"/>
<line x1="1457" y1="396.5" x2="1458" y2="396.5" stroke="#666"/>
<line x1="1457" y1="389.5" x2="1458" y2="389.5" stroke="#666"/>
<line x1="1457" y1="374.5" x2="1458" y2="374.5" stroke="#666"/>
<line x1="1457" y1="367.5" x2="1458" y2="367.5" stroke="#666"/>
<line x1="1457" y1="360.5" x2="1458" y2="360.5" stroke="#666"/>
<line x1="1457" y1="354.5" x2="1458" y2="354.5" stroke="#666"/>
<line x1="1457" y1="341.5" x2="1458" y2="341.5" stroke="#666"/>
<line x1="1457" y1="334.5" x2="1458" y2="334.5" stroke="#666"/>
<line x1="1457" y1="328.5" x2="1458" y2="328.5" stroke="#666"/>
<line x1="1457" y1="322.5" x2="1458" y2="322.5" stroke="#666"/>
<line x1="1457" y1="309.5" x2="1458" y2="309.5" stroke="#666"/>
<line x1="1457" y1="304.5" x2="1458" y2="304.5" stroke="#666"/>
<line x1="1457" y1="298.5" x2="1458" y2="298.5" stroke="#666"/>
<line x1="1457" y1="292.5" x2="1458" y2="292.5" stroke="#666"/>
<line x1="1457" y1="281.5" x2="1458" y2="281.5" stroke="#666"/>
<line x1="1457" y1="275.5" x2="1458" y2="275.5" stroke="#666"/>
<line x1="1457" y1="270.5" x2="1458" y2="270.5" stroke="#666"/>
<line x1="1457" y1="264.5" x2="1458" y2="264.5" stroke="#666"/>
<line x1="1457" y1="254.5" x2="1458" y2="254.5" stroke="#666"/>
<line x1="1457" y1="249.5" x2="1458" y2="249.5" stroke="#666"/>
<line x1="1457" y1="244.5" x2="1458" y2="244.5" stroke="#666"/>
<line x1="1457" y1="239.5" x2="1458" y2="239.5" stroke="#666"/>
<line x1="1457" y1="229.5" x2="1458" y2="229.5" stroke="#666"/>
<line x1="1457" y1="224.5" x2="1458" y2="224.5" stroke="#666"/>
<line x1="1457" y1="219.5" x2="1458" y2="219.5" stroke="#666"/>
<line x1="1457" y1="215.5" x2="1458" y2="215.5" stroke="#666"/>
<line x1="1457" y1="205.5" x2="1458" y2="205.5" stroke="#666"/>
<line x1="1457" y1="201.5" x2="1458" y2="201.5" stroke="#666"/>
<line x1="1457" y1="196.5" x2="1458" y2="196.5" stroke="#666"/>
<line x1="1457" y1="192.5" x2="1458" y2="192.5" stroke="#666"/>
<line x1="1457" y1="183.5" x2="1458" y2="183.5" stroke="#666"/>
<line x1="1457" y1="179.5" x2="1458" y2="179.5" stroke="#666"/>
<line x1="1457" y1="174.5" x2="1458" y2="174.5" stroke="#666"/>
<line x1="1457" y1="170.5" x2="1458" y2="170.5" stroke="#666"/>
<line x1="1457" y1="162.5" x2="1458" y2="162.5" stroke="#666"/>
<line x1="1457" y1="158.5" x2="1458" y2="158.5" stroke="#666"/>
<line x1="1457" y1="154.5" x2="1458" y2="154.5" stroke="#666"/>
<line x1="1457" y1="150.5" x2="1458" y2="150.5" stroke="#666"/>
<line x1="1457" y1="142.5" x2="1458" y2="142.5" stroke="#666"/>
<line x1="1457" y1="138.5" x2="1458" y2="138.5" stroke="#666"/>
<line x1="1457" y1="134.5" x2="1458" y2="134.5" stroke="#666"/>
<line x1="1457" y1="130.5" x2="1458" y2="130.5" stroke="#666"/>
<line x1="1457" y1="123.5" x2="1458" y2="123.5" stroke="#666"/>
<line x1="1457" y1="119.5" x2="1458" y2="119.5" stroke="#666"/>
<line x1="1457" y1="116.5" x2="1458" y2="116.5" stroke="#666"/>
<line x1="1457" y1="112.5" x2="1458" y2="112.5" stroke="#666"/>
<line x1="1457" y1="105.5" x2="1458" y2="105.5" stroke="#666"/>
<line x1="1457" y1="101.5" x2="1458" y2="101.5" stroke="#666"/>
<line x1="1457" y1="98.5" x2="1458" y2="98.5" stroke="#666"/>
<line x1="1457" y1="94.5" x2="1458" y2="94.5" stroke="#666"/>
<line x1="1457" y1="87.5" x2="1458" y2="87.5" stroke="#666"/>
<line x1="1457" y1="84.5" x2="1458" y2="84.5" stroke="#666"/>
<line x1="1457" y1="81.5" x2="1458" y2="81.5" stroke="#666"/>
<line x1="1457" y1="77.5" x2="1458" y2="77.5" stroke="#666"/>
<line x1="1457" y1="71.5" x2="1458" y2="71.5" stroke="#666"/>
<line x1="1457" y1="67.5" x2="1458" y2="67.5" stroke="#666"/>
<line x1="1457" y1="64.5" x2="1458" y2="64.5" stroke="#666"/>
<line x1="1457" y1="61.5" x2="1458" y2="61.5" stroke="#666"/>
<line x1="1457" y1="55.5" x2="1458" y2="55.5" stroke="#666"/>
<line x1="1457" y1="52.5" x2="1458" y2="52.5" stroke="#666"/>
<line x1="1457" y1="49.5" x2="1458" y2="49.5" stroke="#666"/>
<line x1="1457" y1="46.5" x2="1458" y2="46.5" stroke="#666"/>
<line x1="1457" y1="39.5" x2="1458" y2="39.5" stroke="#666"/>
<line x1="1457" y1="36.5" x2="1458" y2="36.5" stroke="#666"/>
<line x1="1457" y1="621.5" x2="1458" y2="621.5" stroke="#666"/>
<line x1="1457" y1="618.5" x2="1458" y2="618.5" stroke="#666"/>
<line x1="1457" y1="614.5" x2="1458" y2="614.5" stroke="#666"/>
<line x1="1457" y1="611.5" x2="1458" y2="611.5" stroke="#666"/>
<line x1="1457" y1="605.5" x2="1458" y2="605.5" stroke="#666"/>
<line x1="1457" y1="601.5" x2="1458" y2="601.5" stroke="#666"/>
<line x1="1457" y1="598.5" x2="1458" y2="598.5" stroke="#666"/>
<line x1="1457" y1="595.5" x2="1458" y2="595.5" stroke="#666"/>
<line x1="1457" y1="589.5" x2="1458" y2="589.5" stroke="#666"/>
<line x1="1457" y1="585.5" x2="1458" y2="585.5" stroke="#666"/>
<line x1="1457" y1="582.5" x2="1458" y2="582.5" stroke="#666"/>
<line x1="1457" y1="579.5" x2="1458" y2="579.5" stroke="#666"/>
<line x1="1457" y1="572.5" x2="1458" y2="572.5" stroke="#666"/>
<line x1="1457" y1="569.5" x2="1458" y2="569.5" stroke="#666"/>
<line x1="1457" y1="566.5" x2="1458" y2="566.5" stroke="#666"/>
<line x1="1457" y1="563.5" x2="1458" y2="563.5" stroke="#666"/>
<line x1="1457" y1="556.5" x2="1458" y2="556.5" stroke="#666"/>
<line x1="1457" y1="553.5" x2="1458" y2="553.5" stroke="#666"/>
<line x1="1457" y1="550.5" x2="1458" y2="550.5" stroke="#666"/>
<line x1="1457" y1="546.5" x2="1458" y2="546.5" stroke="#666"/>
<line x1="1457" y1="540.5" x2="1458" y2="540.5" stroke="#666"/>
<line x1="1457" y1="537.5" x2="1458" y2="537.5" stroke="#666"/>
<line x1="1457" y1="533.5" x2="1458" y2="533.5" stroke="#666"/>
<line x1="1457" y1="530.5" x2="1458" y2="530.5" stroke="#666"/>
<line x1="1457" y1="524.5" x2="1458" y2="524.5" stroke="#666"/>
<line x1="1457" y1="520.5" x2="1458" y2="520.5" stroke="#666"/>
<line x1="1457" y1="517.5" x2="1458" y2="517.5" stroke="#666"/>
<line x1="1457" y1="514.5" x2="1458" y2="514.5" stroke="#666"/>
<line x1="1457" y1="508.5" x2="1458" y2="508.5" stroke="#666"/>
<line x1="1457" y1="504.5" x2="1458" y2="504.5" stroke="#666"/>
<line x1="1457" y1="501.5" x2="1458" y2="501.5" stroke="#666"/>
<line x1="1457" y1="498.5" x2="1458" y2="498.5" stroke="#666"/>
<line x1="1457" y1="491.5" x2="1458" y2="491.5" stroke="#666"/>
<line x1="1457" y1="488.5" x2="1458" y2="488.5" stroke="#666"/>
<line x1="1457" y1="485.5" x2="1458" y2="485.5" stroke="#666"/>
<line x1="1457" y1="482.5" x2="1458" y2="482.5" stroke="#666"/>
<line x1="1457" y1="770.5" x2="1458" y2="770.5" stroke="#666"/>
<line x1="1457" y1="756.5" x2="1458" y2="756.5" stroke="#666"/>
<line x1="1457" y1="742.5" x2="1458" y2="742.5" stroke="#666"/>
<line x1="1457" y1="728.5" x2="1458" y2="728.5" stroke="#666"/>
<line x1="1457" y1="714.5" x2="1458" y2="714.5" stroke="#666"/>
<line x1="1457" y1="701.5" x2="1458" y2="701.5" stroke="#666"/>
<line x1="1457" y1="687.5" x2="1458" y2="687.5" stroke="#666"/>
<line x1="1457" y1="673.5" x2="1458" y2="673.5" stroke="#666"/>
<line x1="1457" y1="659.5" x2="1458" y2="659.5" stroke="#666"/>
<line x1="1457" y1="645.5" x2="1458" y2="645.5" stroke="#666"/>
<line x1="1457" y1="460.5" x2="1459" y2="460.5" stroke="#555"/>
<text x="1460" y="462.5" class="yl">1800</text>
<line x1="1457" y1="419.5" x2="1459" y2="419.5" stroke="#555"/>
<text x="1460" y="421.5" class="yl">2000</text>
<line x1="1457" y1="381.5" x2="1459" y2="381.5" stroke="#555"/>
<text x="1460" y="383.5" class="yl">2200</text>
<line x1="1457" y1="347.5" x2="1459" y2="347.5" stroke="#555"/>
<text x="1460" y="349.5" class="yl">2400</text>
<line x1="1457" y1="316.5" x2="1459" y2="316.5" stroke="#555"/>
<text x="1460" y="318.5" class="yl">2600</text>
<line x1="1457" y1="286.5" x2="1459" y2="286.5" stroke="#555"/>
<text x="1460" y="288.5" class="yl">2800</text>
<line x1="1457" y1="259.5" x2="1459" y2="259.5" stroke="#555"/>
<text x="1460" y="261.5" class="yl">3000</text>
<line x1="1457" y1="234.5" x2="1459" y2="234.5" stroke="#555"/>
<text x="1460" y="236.5" class="yl">3200</text>
<line x1="1457" y1="210.5" x2="1459" y2="210.5" stroke="#555"/>
<text x="1460" y="212.5" class="yl">3400</text>
<line x1="1457" y1="187.5" x2="1459" y2="187.5" stroke="#555"/>
<text x="1460" y="189.5" class="yl">3600</text>
<line x1="1457" y1="166.5" x2="1459" y2="166.5" stroke="#555"/>
<text x="1460" y="168.5" class="yl">3800</text>
<line x1="1457" y1="146.5" x2="1459" y2="146.5" stroke="#555"/>
<text x="1460" y="148.5" class="yl">4000</text>
<line x1="1457" y1="127.5" x2="1459" y2="127.5" stroke="#555"/>
<text x="1460" y="129.5" class="yl">4200</text>
<line x1="1457" y1="108.5" x2="1459" y2="108.5" stroke="#555"/>
<text x="1460" y="110.5" class="yl">4400</text>
<line x1="1457" y1="91.5" x2="1459" y2="91.5" stroke="#555"/>
<text x="1460" y="93.5" class="yl">4600</text>
<line x1="1457" y1="74.5" x2="1459" y2="74.5" stroke="#555"/>
<text x="1460" y="76.5" class="yl">4800</text>
<line x1="1457" y1="58.5" x2="1459" y2="58.5" stroke="#555"/>
<text x="1460" y="60.5" class="yl">5000</text>
<line x1="1457" y1="42.5" x2="1459" y2="42.5" stroke="#555"/>
<text x="1460" y="44.5" class="yl">5200</text>
<line x1="1457" y1="511.5" x2="1459" y2="511.5" stroke="#555"/>
<text x="1460" y="513.5" class="yl">3</text>
<line x1="1457" y1="527.5" x2="1459" y2="527.5" stroke="#555"/>
<text x="1460" y="529.5" class="yl">2</text>
<line x1="1457" y1="543.5" x2="1459" y2="543.5" stroke="#555"/>
<text x="1460" y="545.5" class="yl">1</text>
<line x1="1457" y1="576.5" x2="1459" y2="576.5" stroke="#555"/>
<text x="1460" y="578.5" class="yl">-1</text>
<line x1="1457" y1="592.5" x2="1459" y2="592.5" stroke="#555"/>
<text x="1460" y="594.5" class="yl">-2</text>
<line x1="1457" y1="608.5" x2="1459" y2="608.5" stroke="#555"/>
<text x="1460" y="610.5" class="yl">-3</text>
<line x1="1457" y1="624.5" x2="1459" y2="624.5" stroke="#555"/>
<text x="1460" y="626.5" class="yl">-4</text>
<line x1="1457" y1="652.5" x2="1459" y2="652.5" stroke="#555"/>
<text x="1460" y="654.5" class="yl">90</text>
<line x1="1457" y1="680.5" x2="1459" y2="680.5" stroke="#555"/>
<text x="1460" y="682.5" class="yl">70</text>
<line x1="1457" y1="707.5" x2="1459" y2="707.5" stroke="#555"/>
<text x="1460" y="709.5" class="yl">50</text>
<line x1="1457" y1="735.5" x2="1459" y2="735.5" stroke="#555"/>
<text x="1460" y="737.5" class="yl">30</text>
<line x1="1457" y1="763.5" x2="1459" y2="763.5" stroke="#555"/>
<text x="1460" y="765.5" class="yl">10</text>
<path d="M1454 48 L1459.5 42.5 H1500 V53.5 H1459.5 Z" fill="#fff" stroke="#000" stroke-width="1"/>
<text x="1459" y="52" class="tagb">5123.41</text>
<path d="M1454 84 L1459.5 78.5 H1500 V89.5 H1459.5 Z" fill="#fff" stroke="#b83030" stroke-width="1"/>
<text x="1459" y="88" class="tag">4678.15</text>
<path d="M1454 114 L1459.5 108.5 H1500 V119.5 H1459.5 Z" fill="#fff" stroke="#3a7040" stroke-width="1"/>
<text x="1459" y="118" class="tag">4335.10</text>
<path d="M1454 496 L1459.5 490.5 H1488.5 V501.5 H1459.5 Z" fill="#fff" stroke="#3a1018" stroke-width="1"/>
<text x="1459" y="500" class="tag">3.927</text>
<path d="M1454 558 L1459.5 552.5 H1488.5 V563.5 H1459.5 Z" fill="#fff" stroke="#4a5a5a" stroke-width="1"/>
<text x="1459" y="562" class="tag">0.066</text>
<path d="M1454 684 L1459.5 678.5 H1488.5 V689.5 H1459.5 Z" fill="#fff" stroke="#4a5068" stroke-width="1"/>
<text x="1459" y="688" class="tag">66.63</text>
<text x="17.5" y="476" class="xl" text-anchor="middle">Apr</text>
<text x="17.5" y="794" class="xl" text-anchor="middle">Apr</text>
<text x="51.5" y="476" class="xl" text-anchor="middle">Jul</text>
<text x="51.5" y="794" class="xl" text-anchor="middle">Jul</text>
<text x="86.5" y="476" class="xl" text-anchor="middle">Oct</text>
<text x="86.5" y="794" class="xl" text-anchor="middle">Oct</text>
<text x="120.5" y="476" class="xlb" text-anchor="middle">15</text>
<text x="120.5" y="794" class="xlb" text-anchor="middle">15</text>
<text x="155.5" y="476" class="xl" text-anchor="middle">Apr</text>
<text x="155.5" y="794" class="xl" text-anchor="middle">Apr</text>
<text x="189.5" y="476" class="xl" text-anchor="middle">Jul</text>
<text x="189.5" y="794" class="xl" text-anchor="middle">Jul</text>
<text x="223.5" y="476" class="xl" text-anchor="middle">Oct</text>
<text x="223.5" y="794" class="xl" text-anchor="middle">Oct</text>
<text x="258.5" y="476" class="xlb" text-anchor="middle">16</text>
<text x="258.5" y="794" class="xlb" text-anchor="middle">16</text>
<text x="292.5" y="476" class="xl" text-anchor="middle">Apr</text>
<text x="292.5" y="794" class="xl" text-anchor="middle">Apr</text>
<text x="326.5" y="476" class="xl" text-anchor="middle">Jul</text>
<text x="326.5" y="794" class="xl" text-anchor="middle">Jul</text>
<text x="361.5" y="476" class="xl" text-anchor="middle">Oct</text>
<text x="361.5" y="794" class="xl" text-anchor="middle">Oct</text>
<text x="395.5" y="476" class="xlb" text-anchor="middle">17</text>
<text x="395.5" y="794" class="xlb" text-anchor="middle">17</text>
<text x="430.5" y="476" class="xl" text-anchor="middle">Apr</text>
<text x="430.5" y="794" class="xl" text-anchor="middle">Apr</text>
<text x="464.5" y="476" class="xl" text-anchor="middle">Jul</text>
<text x="464.5" y="794" class="xl" text-anchor="middle">Jul</text>
<text x="498.5" y="476" class="xl" text-anchor="middle">Oct</text>
<text x="498.5" y="794" class="xl" text-anchor="middle">Oct</text>
<text x="533.5" y="476" class="xlb" text-anchor="middle">18</text>
<text x="533.5" y="794" class="xlb" text-anchor="middle">18</text>
<text x="567.5" y="476" class="xl" text-anchor="middle">Apr</text>
<text x="567.5" y="794" class="xl" text-anchor="middle">Apr</text>
<text x="601.5" y="476" class="xl" text-anchor="middle">Jul</text>
<text x="601.5" y="794" class="xl" text-anchor="middle">Jul</text>
<text x="636.5" y="476" class="xl" text-anchor="middle">Oct</text>
<text x="636.5" y="794" class="xl" text-anchor="middle">Oct</text>
<text x="673.5" y="476" class="xlb" text-anchor="middle">19</text>
<text x="673.5" y="794" class="xlb" text-anchor="middle">19</text>
<text x="705.5" y="476" class="xl" text-anchor="middle">Apr</text>
<text x="705.5" y="794" class="xl" text-anchor="middle">Apr</text>
<text x="739.5" y="476" class="xl" text-anchor="middle">Jul</text>
<text x="739.5" y="794" class="xl" text-anchor="middle">Jul</text>
<text x="776.5" y="476" class="xl" text-anchor="middle">Oct</text>
<text x="776.5" y="794" class="xl" text-anchor="middle">Oct</text>
<text x="810.5" y="476" class="xlb" text-anchor="middle">20</text>
<text x="810.5" y="794" class="xlb" text-anchor="middle">20</text>
<text x="845.5" y="476" class="xl" text-anchor="middle">Apr</text>
<text x="845.5" y="794" class="xl" text-anchor="middle">Apr</text>
<text x="879.5" y="476" class="xl" text-anchor="middle">Jul</text>
<text x="879.5" y="794" class="xl" text-anchor="middle">Jul</text>
<text x="914.5" y="476" class="xl" text-anchor="middle">Oct</text>
<text x="914.5" y="794" class="xl" text-anchor="middle">Oct</text>
<text x="948.5" y="476" class="xlb" text-anchor="middle">21</text>
<text x="948.5" y="794" class="xlb" text-anchor="middle">21</text>
<text x="982.5" y="476" class="xl" text-anchor="middle">Apr</text>
<text x="982.5" y="794" class="xl" text-anchor="middle">Apr</text>
<text x="1017.5" y="476" class="xl" text-anchor="middle">Jul</text>
<text x="1017.5" y="794" class="xl" text-anchor="middle">Jul</text>
<text x="1051.5" y="476" class="xl" text-anchor="middle">Oct</text>
<text x="1051.5" y="794" class="xl" text-anchor="middle">Oct</text>
<text x="1085.5" y="476" class="xlb" text-anchor="middle">22</text>
<text x="1085.5" y="794" class="xlb" text-anchor="middle">22</text>
<text x="1120.5" y="476" class="xl" text-anchor="middle">Apr</text>
<text x="1120.5" y="794" class="xl" text-anchor="middle">Apr</text>
<text x="1154.5" y="476" class="xl" text-anchor="middle">Jul</text>
<text x="1154.5" y="794" class="xl" text-anchor="middle">Jul</text>
<text x="1189.5" y="476" class="xl" text-anchor="middle">Oct</text>
<text x="1189.5" y="794" class="xl" text-anchor="middle">Oct</text>
<text x="1223.5" y="476" class="xlb" text-anchor="middle">23</text>
<text x="1223.5" y="794" class="xlb" text-anchor="middle">23</text>
<text x="1257.5" y="476" class="xl" text-anchor="middle">Apr</text>
<text x="1257.5" y="794" class="xl" text-anchor="middle">Apr</text>
<text x="1292.5" y="476" class="xl" text-anchor="middle">Jul</text>
<text x="1292.5" y="794" class="xl" text-anchor="middle">Jul</text>
<text x="1326.5" y="476" class="xl" text-anchor="middle">Oct</text>
<text x="1326.5" y="794" class="xl" text-anchor="middle">Oct</text>
<text x="1360.5" y="476" class="xlb" text-anchor="middle">24</text>
<text x="1360.5" y="794" class="xlb" text-anchor="middle">24</text>
<text x="1395.5" y="476" class="xl" text-anchor="middle">Apr</text>
<text x="1395.5" y="794" class="xl" text-anchor="middle">Apr</text>
<text x="1429.5" y="476" class="xl" text-anchor="middle">Jul</text>
<text x="1429.5" y="794" class="xl" text-anchor="middle">Jul</text>
<rect x="17" y="31" width="148" height="11" fill="#fff"/>
<rect x="17" y="43" width="86" height="20" fill="#f8f9fb"/>
<rect x="17" y="480" width="208" height="11" fill="#f8f9fb"/>
<rect x="17" y="632" width="96" height="11" fill="#f8f9fb"/>

<path d="M20.5 33.5V39M19 34.5H20M23.5 35V42M22 40.5H25M26.5 33V39.5M25 38.5H26" stroke="#000" fill="none" shape-rendering="crispEdges"/>
<rect x="19" y="47" width="9" height="2" fill="#2a6a2a"/>
<rect x="19" y="58" width="9" height="2" fill="#b01818"/>
<rect x="19" y="485" width="9" height="2" fill="#000"/>
<path d="M19 641.5 L21.5 636.5 L23 639 L24.5 635.5 L27 639 V642 H19Z" fill="#9ab0c0" stroke="#4a5a6a" stroke-width="0.8"/>
<rect x="0.5" y="0.5" width="1499" height="799" fill="none" stroke="#575b67"/>
</svg>
<div class="t" style="left:16px;top:4.5px;font-weight:bold;font-size:13px;letter-spacing:0.2px;">$SPX</div>
<div class="t" style="left:57px;top:6px;font-size:10.5px;">S&amp;P 500 Large Cap Index INDX</div>
<div class="t" style="left:16.5px;top:19.5px;font-size:10px;">12-Apr-2024</div>
<div class="t" style="left:1366px;top:6px;font-size:10.5px;color:#555;">&copy; StockCharts.com</div>
<div class="t" style="left:967.3px;top:17.5px;font-size:11px;font-weight:bold;">Open</div>
<div class="t" style="left:999.6px;top:19.5px;font-size:10px;letter-spacing:0.35px;">5211.37</div>
<div class="t" style="left:1044.6px;top:17.5px;font-size:11px;font-weight:bold;">High</div>
<div class="t" style="left:1071.4px;top:19.5px;font-size:10px;letter-spacing:0.35px;">5224.81</div>
<div class="t" style="left:1116.7px;top:17.5px;font-size:11px;font-weight:bold;">Low</div>
<div class="t" style="left:1143.4px;top:19.5px;font-size:10px;letter-spacing:0.35px;">5107.94</div>
<div class="t" style="left:1188.5px;top:17.5px;font-size:11px;font-weight:bold;">Close</div>
<div class="t" style="left:1223.5px;top:19.5px;font-size:10px;letter-spacing:0.35px;">5123.41</div>
<div class="t" style="left:1269px;top:17.5px;font-size:11px;font-weight:bold;">Volume</div>
<div class="t" style="left:1315.6px;top:19.5px;font-size:10px;letter-spacing:0px;">10.9B</div>
<div class="t" style="left:1348.6px;top:17.5px;font-size:11px;font-weight:bold;">Chg</div>
<div class="t" style="left:1378px;top:19.5px;font-size:10px;letter-spacing:-0.2px;">-80.93 (-1.56%)</div>

<div class="t" style="left:31.5px;top:33px;font-size:10px;letter-spacing:1.15px;">$SPX (Weekly) 5123.41</div>
<div class="t" style="left:30px;top:43px;font-size:9.4px;color:#145a24;">MA(150) 4335.10</div>
<div class="t" style="left:30px;top:54px;font-size:9.4px;color:#a00d1a;">MA(40) 4678.15</div>
<div class="t" style="left:31.5px;top:482px;font-size:10px;letter-spacing:1.3px;">PPO(12,26,9) 3.927<span style="color:#7a2840">, 3.861</span><span style="color:#6a9a8a">, 0.066</span></div>
<div class="t" style="left:31px;top:633.5px;font-size:10px;letter-spacing:1.27px;">RSI(14) 66.63</div>
<svg width="8" height="6" style="left:1449px;top:22px;position:absolute"><path d="M0 0H7L3.5 5Z" fill="#4a6a9a"/></svg>
</div></body></html>
